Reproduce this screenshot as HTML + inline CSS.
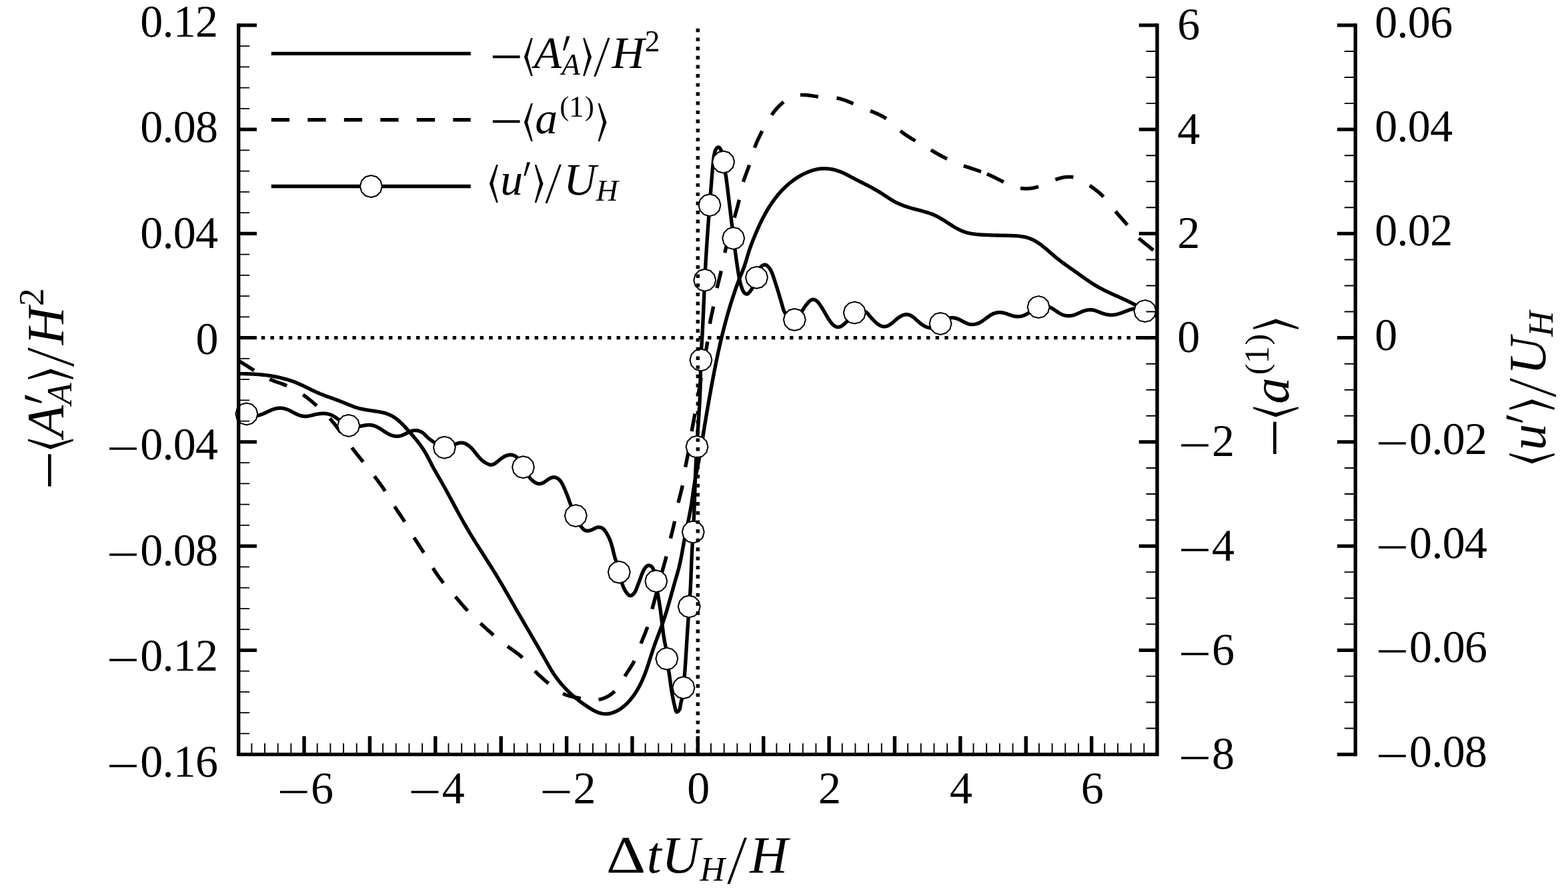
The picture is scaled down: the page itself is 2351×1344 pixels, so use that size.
<!DOCTYPE html>
<html lang="en">
<head>
<meta charset="utf-8">
<title>Figure</title>
<style>
html,body{margin:0;padding:0;background:#fff;}
body{width:2351px;height:1344px;overflow:hidden;}
svg{display:block;}
text{font-family:"Liberation Serif","DejaVu Serif",serif;fill:#000;}
.i{font-style:italic;}
.m{font-family:"DejaVu Math TeX Gyre","DejaVu Serif",serif;}
.s{font-family:"DejaVu Sans",sans-serif;}
.sl{font-family:"DejaVu Sans",sans-serif;font-weight:200;}
</style>
</head>
<body>
<svg width="2351" height="1344" viewBox="0 0 2351 1344" text-rendering="geometricPrecision">
<g fill="none" stroke="#000" stroke-width="5.4" stroke-linejoin="round">
<path d="M357.67 560.59 L359.65 560.59 L361.63 560.6 L363.62 560.62 L365.61 560.65 L367.6 560.69 L369.59 560.74 L371.59 560.79 L373.59 560.86 L375.59 560.94 L377.59 561.03 L379.6 561.14 L381.6 561.25 L383.6 561.38 L385.61 561.52 L387.61 561.68 L389.61 561.84 L391.61 562.03 L393.61 562.23 L395.61 562.44 L397.61 562.67 L399.6 562.91 L401.59 563.18 L403.58 563.45 L405.57 563.75 L407.55 564.07 L409.53 564.4 L411.5 564.75 L413.47 565.12 L415.43 565.51 L417.39 565.92 L419.35 566.36 L421.29 566.81 L423.24 567.28 L425.17 567.78 L427.1 568.3 L429.02 568.84 L430.94 569.4 L432.84 569.99 L434.74 570.6 L436.63 571.24 L438.52 571.9 L440.39 572.59 L442.25 573.3 L444.11 574.04 L445.95 574.8 L447.79 575.59 L449.62 576.4 L451.44 577.23 L453.26 578.07 L455.07 578.93 L456.88 579.8 L458.68 580.67 L460.48 581.55 L462.28 582.43 L464.09 583.32 L465.89 584.2 L467.69 585.08 L469.5 585.95 L471.31 586.81 L473.12 587.65 L474.94 588.49 L476.77 589.3 L478.61 590.1 L480.45 590.87 L482.3 591.62 L484.16 592.34 L486.03 593.05 L487.9 593.74 L489.78 594.43 L491.65 595.1 L493.54 595.77 L495.42 596.44 L497.3 597.11 L499.18 597.79 L501.06 598.47 L502.94 599.16 L504.82 599.85 L506.69 600.56 L508.57 601.27 L510.44 601.99 L512.3 602.72 L514.17 603.47 L516.03 604.23 L517.88 605 L519.74 605.78 L521.59 606.56 L523.45 607.33 L525.3 608.1 L527.17 608.84 L529.04 609.56 L530.91 610.24 L532.8 610.88 L534.7 611.47 L536.61 612.02 L538.53 612.53 L540.46 613.01 L542.4 613.45 L544.35 613.86 L546.31 614.24 L548.27 614.61 L550.24 614.95 L552.22 615.27 L554.2 615.58 L556.18 615.89 L558.17 616.18 L560.16 616.48 L562.15 616.77 L564.15 617.07 L566.14 617.38 L568.13 617.7 L570.12 618.05 L572.09 618.44 L574.05 618.87 L575.99 619.34 L577.91 619.88 L579.81 620.49 L581.67 621.17 L583.51 621.92 L585.32 622.74 L587.09 623.63 L588.82 624.59 L590.52 625.62 L592.18 626.71 L593.8 627.86 L595.38 629.06 L596.92 630.32 L598.43 631.63 L599.92 632.98 L601.38 634.36 L602.81 635.78 L604.22 637.22 L605.62 638.69 L607 640.17 L608.37 641.66 L609.74 643.16 L611.1 644.67 L612.45 646.17 L613.8 647.67 L615.14 649.18 L616.47 650.69 L617.8 652.2 L619.12 653.72 L620.42 655.25 L621.71 656.78 L622.99 658.32 L624.26 659.86 L625.51 661.42 L626.74 662.99 L627.96 664.56 L629.16 666.15 L630.34 667.75 L631.5 669.37 L632.64 671 L633.75 672.65 L634.85 674.31 L635.91 675.99 L636.95 677.69 L637.97 679.41 L638.96 681.14 L639.93 682.89 L640.89 684.65 L641.83 686.42 L642.76 688.2 L643.68 689.99 L644.6 691.78 L645.52 693.57 L646.43 695.35 L647.36 697.14 L648.29 698.92 L649.24 700.69 L650.19 702.45 L651.16 704.2 L652.14 705.95 L653.13 707.69 L654.12 709.42 L655.12 711.16 L656.12 712.88 L657.12 714.61 L658.13 716.34 L659.13 718.07 L660.13 719.8 L661.13 721.53 L662.12 723.27 L663.1 725.01 L664.08 726.75 L665.06 728.49 L666.04 730.24 L667.01 731.99 L667.98 733.74 L668.95 735.49 L669.91 737.24 L670.87 739 L671.83 740.76 L672.78 742.51 L673.74 744.27 L674.69 746.03 L675.65 747.79 L676.6 749.55 L677.55 751.32 L678.5 753.08 L679.45 754.84 L680.4 756.6 L681.35 758.37 L682.3 760.13 L683.25 761.89 L684.21 763.65 L685.16 765.41 L686.11 767.17 L687.07 768.93 L688.03 770.69 L688.99 772.45 L689.95 774.2 L690.92 775.96 L691.89 777.71 L692.86 779.46 L693.83 781.21 L694.81 782.95 L695.79 784.7 L696.78 786.44 L697.77 788.17 L698.77 789.91 L699.77 791.64 L700.77 793.37 L701.78 795.1 L702.8 796.82 L703.82 798.54 L704.84 800.26 L705.88 801.97 L706.91 803.68 L707.96 805.39 L709.01 807.09 L710.06 808.79 L711.12 810.49 L712.18 812.18 L713.24 813.88 L714.31 815.57 L715.38 817.26 L716.45 818.95 L717.52 820.64 L718.6 822.32 L719.67 824.01 L720.75 825.7 L721.83 827.38 L722.91 829.07 L723.98 830.75 L725.06 832.44 L726.14 834.12 L727.22 835.81 L728.3 837.49 L729.38 839.18 L730.45 840.87 L731.53 842.55 L732.6 844.24 L733.67 845.93 L734.74 847.63 L735.81 849.32 L736.87 851.01 L737.93 852.71 L738.99 854.41 L740.05 856.11 L741.1 857.81 L742.15 859.51 L743.19 861.22 L744.23 862.93 L745.27 864.64 L746.3 866.35 L747.33 868.07 L748.36 869.78 L749.38 871.5 L750.4 873.23 L751.42 874.95 L752.43 876.67 L753.45 878.4 L754.46 880.13 L755.46 881.85 L756.47 883.58 L757.47 885.31 L758.48 887.05 L759.48 888.78 L760.48 890.51 L761.47 892.25 L762.47 893.98 L763.47 895.72 L764.46 897.46 L765.46 899.19 L766.45 900.93 L767.45 902.67 L768.44 904.4 L769.43 906.14 L770.43 907.88 L771.42 909.61 L772.42 911.35 L773.41 913.09 L774.41 914.82 L775.4 916.56 L776.4 918.29 L777.4 920.03 L778.4 921.76 L779.41 923.49 L780.41 925.22 L781.41 926.95 L782.42 928.69 L783.42 930.41 L784.43 932.14 L785.44 933.87 L786.45 935.6 L787.46 937.33 L788.47 939.06 L789.48 940.78 L790.49 942.51 L791.5 944.24 L792.51 945.97 L793.52 947.69 L794.53 949.42 L795.54 951.15 L796.55 952.88 L797.55 954.6 L798.56 956.33 L799.57 958.06 L800.58 959.79 L801.59 961.52 L802.59 963.24 L803.6 964.97 L804.6 966.7 L805.6 968.44 L806.61 970.17 L807.61 971.9 L808.61 973.63 L809.6 975.37 L810.6 977.1 L811.59 978.84 L812.59 980.57 L813.58 982.31 L814.57 984.05 L815.55 985.79 L816.54 987.53 L817.52 989.27 L818.5 991.02 L819.48 992.76 L820.46 994.51 L821.44 996.25 L822.43 997.99 L823.43 999.72 L824.43 1001.45 L825.45 1003.17 L826.48 1004.89 L827.53 1006.59 L828.59 1008.29 L829.68 1009.97 L830.79 1011.64 L831.93 1013.29 L833.08 1014.94 L834.25 1016.56 L835.45 1018.18 L836.67 1019.78 L837.9 1021.36 L839.16 1022.93 L840.43 1024.48 L841.72 1026.01 L843.04 1027.53 L844.36 1029.03 L845.71 1030.52 L847.07 1031.99 L848.45 1033.43 L849.84 1034.87 L851.25 1036.28 L852.68 1037.67 L854.12 1039.04 L855.57 1040.39 L857.04 1041.73 L858.52 1043.04 L860.02 1044.34 L861.53 1045.63 L863.06 1046.89 L864.6 1048.14 L866.15 1049.38 L867.73 1050.6 L869.31 1051.82 L870.91 1053.01 L872.53 1054.2 L874.16 1055.38 L875.81 1056.55 L877.48 1057.7 L879.16 1058.85 L880.85 1060 L882.57 1061.13 L884.29 1062.24 L886.04 1063.33 L887.8 1064.38 L889.58 1065.39 L891.37 1066.34 L893.18 1067.22 L895.01 1068.03 L896.86 1068.76 L898.72 1069.4 L900.59 1069.94 L902.49 1070.37 L904.4 1070.68 L906.33 1070.86 L908.28 1070.91 L910.24 1070.82 L912.21 1070.6 L914.17 1070.26 L916.12 1069.81 L918.05 1069.26 L919.95 1068.61 L921.82 1067.87 L923.65 1067.06 L925.45 1066.16 L927.2 1065.19 L928.92 1064.15 L930.61 1063.04 L932.25 1061.87 L933.86 1060.64 L935.43 1059.36 L936.97 1058.03 L938.47 1056.65 L939.93 1055.23 L941.36 1053.77 L942.75 1052.28 L944.11 1050.75 L945.43 1049.21 L946.72 1047.63 L947.96 1046.04 L949.18 1044.44 L950.36 1042.81 L951.51 1041.17 L952.62 1039.51 L953.71 1037.83 L954.76 1036.14 L955.79 1034.44 L956.79 1032.72 L957.76 1030.99 L958.7 1029.24 L959.62 1027.48 L960.51 1025.71 L961.38 1023.92 L962.22 1022.12 L963.04 1020.32 L963.84 1018.5 L964.62 1016.67 L965.38 1014.83 L966.12 1012.98 L966.85 1011.12 L967.55 1009.25 L968.25 1007.38 L968.92 1005.5 L969.59 1003.61 L970.24 1001.72 L970.88 999.82 L971.52 997.92 L972.14 996.01 L972.76 994.1 L973.38 992.18 L973.99 990.27 L974.59 988.35 L975.2 986.44 L975.81 984.52 L976.42 982.6 L977.03 980.69 L977.64 978.77 L978.26 976.86 L978.89 974.95 L979.53 973.05 L980.17 971.15 L980.82 969.25 L981.49 967.36 L982.17 965.48 L982.85 963.6 L983.54 961.72 L984.24 959.85 L984.94 957.97 L985.64 956.1 L986.35 954.24 L987.06 952.37 L987.77 950.5 L988.48 948.64 L989.19 946.77 L989.89 944.9 L990.59 943.03 L991.28 941.16 L991.96 939.28 L992.64 937.41 L993.31 935.53 L993.96 933.64 L994.61 931.75 L995.25 929.86 L995.88 927.96 L996.5 926.06 L997.11 924.16 L997.71 922.25 L998.31 920.34 L998.9 918.43 L999.48 916.52 L1000.06 914.6 L1000.63 912.68 L1001.19 910.76 L1001.76 908.84 L1002.31 906.92 L1002.87 904.99 L1003.42 903.06 L1003.96 901.14 L1004.51 899.21 L1005.05 897.28 L1005.59 895.35 L1006.13 893.42 L1006.67 891.49 L1007.21 889.55 L1007.74 887.62 L1008.28 885.69 L1008.82 883.76 L1009.36 881.83 L1009.91 879.91 L1010.45 877.98 L1011 876.05 L1011.55 874.13 L1012.1 872.2 L1012.66 870.28 L1013.22 868.36 L1013.78 866.44 L1014.34 864.52 L1014.89 862.6 L1015.44 860.68 L1015.98 858.76 L1016.52 856.83 L1017.04 854.9 L1017.55 852.97 L1018.04 851.04 L1018.52 849.1 L1018.98 847.15 L1019.42 845.2 L1019.85 843.25 L1020.26 841.3 L1020.67 839.34 L1021.06 837.38 L1021.44 835.41 L1021.81 833.45 L1022.18 831.48 L1022.54 829.51 L1022.9 827.54 L1023.25 825.57 L1023.6 823.6 L1023.95 821.63 L1024.31 819.65 L1024.66 817.68 L1025.01 815.71 L1025.37 813.74 L1025.74 811.77 L1026.11 809.8 L1026.49 807.84 L1026.87 805.87 L1027.27 803.91 L1027.66 801.95 L1028.06 799.99 L1028.47 798.03 L1028.88 796.07 L1029.29 794.11 L1029.7 792.15 L1030.11 790.19 L1030.53 788.24 L1030.94 786.28 L1031.35 784.32 L1031.76 782.37 L1032.17 780.41 L1032.57 778.45 L1032.97 776.49 L1033.37 774.53 L1033.76 772.57 L1034.14 770.61 L1034.52 768.64 L1034.89 766.68 L1035.25 764.71 L1035.6 762.74 L1035.94 760.77 L1036.27 758.8 L1036.59 756.82 L1036.9 754.85 L1037.2 752.87 L1037.49 750.89 L1037.78 748.9 L1038.06 746.92 L1038.33 744.93 L1038.61 742.95 L1038.88 740.96 L1039.16 738.98 L1039.44 737 L1039.72 735.01 L1040.01 733.03 L1040.31 731.05 L1040.62 729.07 L1040.94 727.1 L1041.27 725.13 L1041.61 723.15 L1041.96 721.18 L1042.31 719.22 L1042.67 717.25 L1043.03 715.28 L1043.4 713.32 L1043.77 711.35 L1044.15 709.39 L1044.53 707.43 L1044.91 705.46 L1045.29 703.5 L1045.68 701.54 L1046.06 699.57 L1046.44 697.61 L1046.82 695.65 L1047.2 693.69 L1047.58 691.72 L1047.95 689.76 L1048.32 687.79 L1048.69 685.82 L1049.04 683.85 L1049.4 681.88 L1049.74 679.91 L1050.08 677.94 L1050.42 675.97 L1050.75 673.99 L1051.08 672.02 L1051.41 670.04 L1051.73 668.07 L1052.05 666.09 L1052.37 664.11 L1052.68 662.13 L1053 660.16 L1053.31 658.18 L1053.63 656.2 L1053.95 654.23 L1054.27 652.25 L1054.59 650.28 L1054.9 648.3 L1055.23 646.33 L1055.55 644.35 L1055.87 642.38 L1056.19 640.4 L1056.52 638.43 L1056.84 636.46 L1057.17 634.48 L1057.49 632.51 L1057.82 630.54 L1058.15 628.57 L1058.48 626.59 L1058.81 624.62 L1059.14 622.65 L1059.48 620.68 L1059.81 618.71 L1060.15 616.74 L1060.48 614.77 L1060.82 612.8 L1061.16 610.83 L1061.5 608.86 L1061.84 606.89 L1062.19 604.92 L1062.53 602.95 L1062.87 600.98 L1063.22 599.01 L1063.57 597.04 L1063.92 595.07 L1064.27 593.1 L1064.62 591.13 L1064.98 589.16 L1065.33 587.2 L1065.69 585.23 L1066.05 583.26 L1066.4 581.29 L1066.77 579.32 L1067.13 577.35 L1067.49 575.39 L1067.86 573.42 L1068.23 571.45 L1068.6 569.48 L1068.97 567.52 L1069.34 565.55 L1069.72 563.58 L1070.1 561.62 L1070.48 559.65 L1070.86 557.69 L1071.24 555.72 L1071.63 553.76 L1072.02 551.79 L1072.41 549.83 L1072.81 547.87 L1073.2 545.9 L1073.6 543.94 L1074 541.98 L1074.41 540.02 L1074.82 538.06 L1075.23 536.1 L1075.64 534.14 L1076.06 532.18 L1076.48 530.22 L1076.9 528.27 L1077.33 526.31 L1077.76 524.36 L1078.19 522.4 L1078.63 520.45 L1079.07 518.49 L1079.51 516.54 L1079.96 514.59 L1080.41 512.64 L1080.87 510.69 L1081.33 508.74 L1081.79 506.8 L1082.26 504.85 L1082.73 502.91 L1083.2 500.96 L1083.68 499.02 L1084.16 497.08 L1084.65 495.14 L1085.14 493.2 L1085.64 491.26 L1086.14 489.32 L1086.64 487.39 L1087.15 485.45 L1087.67 483.52 L1088.18 481.59 L1088.71 479.66 L1089.24 477.73 L1089.77 475.8 L1090.31 473.87 L1090.85 471.95 L1091.4 470.03 L1091.95 468.1 L1092.51 466.18 L1093.07 464.26 L1093.64 462.35 L1094.22 460.43 L1094.8 458.52 L1095.38 456.61 L1095.97 454.7 L1096.57 452.79 L1097.17 450.88 L1097.78 448.97 L1098.39 447.07 L1099.01 445.17 L1099.64 443.27 L1100.27 441.37 L1100.91 439.47 L1101.55 437.58 L1102.2 435.69 L1102.86 433.8 L1103.52 431.91 L1104.19 430.02 L1104.86 428.14 L1105.55 426.26 L1106.24 424.38 L1106.94 422.5 L1107.65 420.63 L1108.37 418.76 L1109.1 416.9 L1109.84 415.04 L1110.59 413.19 L1111.35 411.35 L1112.12 409.5 L1112.88 407.65 L1113.63 405.8 L1114.36 403.94 L1115.06 402.08 L1115.74 400.2 L1116.4 398.31 L1117.02 396.41 L1117.63 394.51 L1118.22 392.6 L1118.81 390.68 L1119.38 388.76 L1119.95 386.84 L1120.52 384.92 L1121.09 383 L1121.67 381.09 L1122.26 379.18 L1122.86 377.27 L1123.48 375.38 L1124.12 373.49 L1124.77 371.61 L1125.44 369.73 L1126.12 367.85 L1126.81 365.99 L1127.52 364.12 L1128.24 362.26 L1128.97 360.41 L1129.7 358.55 L1130.45 356.7 L1131.21 354.85 L1131.97 353 L1132.75 351.16 L1133.53 349.31 L1134.32 347.47 L1135.12 345.63 L1135.93 343.79 L1136.74 341.96 L1137.57 340.13 L1138.41 338.3 L1139.26 336.48 L1140.12 334.67 L1140.99 332.86 L1141.88 331.05 L1142.78 329.26 L1143.69 327.47 L1144.61 325.68 L1145.55 323.91 L1146.5 322.14 L1147.46 320.38 L1148.44 318.63 L1149.44 316.89 L1150.45 315.16 L1151.48 313.44 L1152.52 311.73 L1153.59 310.04 L1154.66 308.35 L1155.76 306.67 L1156.87 305.01 L1158.01 303.36 L1159.16 301.73 L1160.33 300.11 L1161.52 298.5 L1162.72 296.91 L1163.95 295.34 L1165.2 293.78 L1166.46 292.24 L1167.75 290.71 L1169.05 289.21 L1170.38 287.72 L1171.73 286.25 L1173.09 284.81 L1174.48 283.38 L1175.89 281.97 L1177.32 280.59 L1178.77 279.23 L1180.24 277.89 L1181.73 276.57 L1183.25 275.28 L1184.79 274.01 L1186.34 272.77 L1187.93 271.56 L1189.53 270.37 L1191.16 269.2 L1192.8 268.07 L1194.48 266.96 L1196.17 265.88 L1197.89 264.83 L1199.63 263.81 L1201.4 262.82 L1203.19 261.87 L1205 260.94 L1206.83 260.06 L1208.67 259.21 L1210.54 258.41 L1212.42 257.65 L1214.32 256.94 L1216.23 256.27 L1218.15 255.66 L1220.09 255.1 L1222.03 254.59 L1223.98 254.15 L1225.94 253.76 L1227.9 253.44 L1229.87 253.18 L1231.84 252.99 L1233.82 252.87 L1235.79 252.83 L1237.76 252.85 L1239.73 252.95 L1241.7 253.12 L1243.67 253.35 L1245.63 253.65 L1247.58 254.01 L1249.52 254.43 L1251.46 254.9 L1253.38 255.43 L1255.3 256.02 L1257.2 256.65 L1259.09 257.33 L1260.97 258.05 L1262.83 258.82 L1264.68 259.63 L1266.5 260.47 L1268.31 261.35 L1270.11 262.25 L1271.9 263.18 L1273.68 264.12 L1275.45 265.07 L1277.23 266.02 L1279 266.97 L1280.77 267.91 L1282.54 268.84 L1284.32 269.76 L1286.1 270.67 L1287.88 271.58 L1289.67 272.48 L1291.45 273.38 L1293.23 274.28 L1295.01 275.19 L1296.79 276.09 L1298.57 277 L1300.34 277.92 L1302.11 278.84 L1303.88 279.77 L1305.64 280.71 L1307.4 281.66 L1309.15 282.62 L1310.89 283.59 L1312.63 284.57 L1314.36 285.57 L1316.09 286.58 L1317.81 287.61 L1319.52 288.65 L1321.22 289.71 L1322.91 290.79 L1324.59 291.89 L1326.26 293.01 L1327.93 294.13 L1329.6 295.26 L1331.27 296.38 L1332.95 297.49 L1334.63 298.58 L1336.33 299.65 L1338.04 300.68 L1339.78 301.67 L1341.53 302.62 L1343.3 303.54 L1345.09 304.41 L1346.9 305.25 L1348.72 306.06 L1350.56 306.83 L1352.41 307.57 L1354.27 308.29 L1356.15 308.97 L1358.04 309.63 L1359.93 310.26 L1361.84 310.88 L1363.75 311.46 L1365.68 312.03 L1367.61 312.59 L1369.54 313.12 L1371.48 313.64 L1373.42 314.16 L1375.36 314.66 L1377.3 315.17 L1379.24 315.67 L1381.18 316.18 L1383.11 316.7 L1385.04 317.23 L1386.96 317.78 L1388.87 318.34 L1390.77 318.93 L1392.67 319.55 L1394.55 320.2 L1396.41 320.88 L1398.26 321.6 L1400.1 322.36 L1401.92 323.16 L1403.71 324.02 L1405.5 324.92 L1407.26 325.86 L1409.01 326.83 L1410.75 327.84 L1412.48 328.87 L1414.2 329.92 L1415.91 331 L1417.62 332.08 L1419.32 333.18 L1421.02 334.28 L1422.72 335.38 L1424.42 336.47 L1426.13 337.56 L1427.84 338.63 L1429.55 339.69 L1431.28 340.72 L1433.01 341.72 L1434.76 342.7 L1436.52 343.64 L1438.29 344.53 L1440.08 345.39 L1441.89 346.19 L1443.72 346.94 L1445.57 347.63 L1447.44 348.26 L1449.34 348.83 L1451.26 349.34 L1453.19 349.79 L1455.14 350.2 L1457.11 350.56 L1459.09 350.88 L1461.08 351.16 L1463.09 351.4 L1465.09 351.61 L1467.11 351.79 L1469.13 351.95 L1471.15 352.08 L1473.17 352.2 L1475.19 352.3 L1477.21 352.39 L1479.22 352.48 L1481.23 352.56 L1483.23 352.63 L1485.23 352.7 L1487.22 352.77 L1489.21 352.83 L1491.2 352.89 L1493.19 352.94 L1495.17 353 L1497.16 353.05 L1499.14 353.1 L1501.13 353.14 L1503.12 353.19 L1505.11 353.23 L1507.11 353.28 L1509.11 353.32 L1511.11 353.37 L1513.12 353.41 L1515.14 353.46 L1517.15 353.52 L1519.17 353.59 L1521.19 353.68 L1523.2 353.79 L1525.21 353.93 L1527.21 354.1 L1529.2 354.31 L1531.19 354.57 L1533.16 354.87 L1535.12 355.22 L1537.06 355.63 L1538.99 356.11 L1540.89 356.65 L1542.78 357.26 L1544.64 357.96 L1546.48 358.72 L1548.3 359.56 L1550.09 360.45 L1551.85 361.41 L1553.59 362.42 L1555.3 363.48 L1556.99 364.58 L1558.65 365.71 L1560.28 366.88 L1561.89 368.08 L1563.47 369.31 L1565.04 370.56 L1566.6 371.83 L1568.14 373.11 L1569.67 374.41 L1571.19 375.72 L1572.71 377.04 L1574.22 378.37 L1575.73 379.69 L1577.24 381.01 L1578.75 382.33 L1580.27 383.64 L1581.8 384.93 L1583.33 386.21 L1584.88 387.48 L1586.45 388.72 L1588.02 389.95 L1589.61 391.17 L1591.2 392.37 L1592.8 393.56 L1594.41 394.74 L1596.03 395.91 L1597.65 397.08 L1599.28 398.24 L1600.91 399.39 L1602.54 400.54 L1604.18 401.69 L1605.81 402.84 L1607.45 403.99 L1609.08 405.14 L1610.72 406.3 L1612.35 407.46 L1613.97 408.63 L1615.6 409.8 L1617.23 410.97 L1618.85 412.14 L1620.48 413.31 L1622.11 414.48 L1623.74 415.64 L1625.37 416.8 L1627.01 417.96 L1628.66 419.1 L1630.3 420.24 L1631.96 421.36 L1633.62 422.48 L1635.29 423.58 L1636.97 424.67 L1638.65 425.75 L1640.35 426.8 L1642.06 427.85 L1643.77 428.87 L1645.5 429.88 L1647.23 430.87 L1648.98 431.84 L1650.73 432.8 L1652.5 433.73 L1654.27 434.65 L1656.05 435.55 L1657.85 436.44 L1659.64 437.31 L1661.45 438.18 L1663.26 439.03 L1665.07 439.87 L1666.89 440.7 L1668.72 441.53 L1670.54 442.36 L1672.37 443.18 L1674.2 444 L1676.03 444.81 L1677.85 445.63 L1679.68 446.45 L1681.51 447.28 L1683.33 448.11 L1685.15 448.95 L1686.96 449.79 L1688.77 450.65 L1690.58 451.51 L1692.38 452.39 L1694.17 453.28 L1695.96 454.18 L1697.74 455.09 L1699.51 456 L1701.29 456.93 L1703.06 457.86 L1704.83 458.8 L1706.59 459.74 L1708.36 460.68 L1710.12 461.63 L1711.88 462.57 L1713.64 463.52 L1715.41 464.47 L1717.17 465.41 L1718.94 466.35 L1720.7 467.29 L1722.48 468.22 L1724.25 469.14 L1726.03 470.06 L1727.81 470.97 L1729.6 471.87 L1731.39 472.76 L1733.19 473.63 L1735 474.5"/>
<path d="M357.65 541 L358.95 541.82 L360.25 542.63 L361.55 543.45 L362.86 544.26 L364.16 545.08 L365.46 545.89 L366.76 546.71 L368.06 547.52 L369.36 548.34 L370.67 549.16 L371.97 549.97 L373.27 550.79 L374.58 551.61 L375.88 552.42 L377.18 553.24 L378.49 554.06 L379.79 554.88 L381.1 555.7"/>
<path d="M404.3 568.8 L405.71 569.41 L407.12 570.01 L408.54 570.58 L409.98 571.14 L411.41 571.68 L412.85 572.22 L414.3 572.74 L415.75 573.26 L417.2 573.77 L418.66 574.28 L420.11 574.8 L421.56 575.31 L423.01 575.83 L424.46 576.36 L425.9 576.9 L427.34 577.45 L428.77 578.02 L430.2 578.6"/>
<path d="M454.3 592 L455.57 592.9 L456.83 593.81 L458.09 594.73 L459.33 595.67 L460.57 596.61 L461.8 597.57 L463.02 598.53 L464.23 599.51 L465.44 600.49 L466.64 601.48 L467.83 602.48 L469.02 603.49 L470.21 604.5 L471.39 605.52 L472.56 606.54 L473.73 607.57 L474.9 608.6"/>
<path d="M494.5 627.7 L495.5 628.83 L496.49 629.96 L497.47 631.1 L498.44 632.25 L499.4 633.41 L500.36 634.58 L501.3 635.76 L502.24 636.94 L503.17 638.12 L504.1 639.31 L505.01 640.51 L505.93 641.71 L506.83 642.92 L507.73 644.13 L508.63 645.34 L509.52 646.56 L510.41 647.78 L511.3 649"/>
<path d="M527.6 671.5 L528.51 672.71 L529.43 673.91 L530.36 675.11 L531.28 676.31 L532.22 677.5 L533.15 678.69 L534.09 679.88 L535.03 681.07 L535.97 682.26 L536.92 683.44 L537.86 684.63 L538.81 685.81 L539.76 686.99 L540.71 688.17 L541.66 689.35 L542.6 690.54 L543.55 691.72 L544.5 692.9"/>
<path d="M561.3 714.3 L562.23 715.51 L563.16 716.73 L564.09 717.94 L565.01 719.16 L565.94 720.38 L566.85 721.6 L567.77 722.83 L568.68 724.06 L569.58 725.29 L570.48 726.53 L571.37 727.77 L572.26 729.01 L573.14 730.26 L574.01 731.52 L574.87 732.78 L575.72 734.05 L576.57 735.32 L577.4 736.6"/>
<path d="M591.6 759.8 L592.42 761.07 L593.26 762.34 L594.1 763.61 L594.94 764.87 L595.79 766.13 L596.65 767.38 L597.51 768.63 L598.37 769.88 L599.23 771.14 L600.09 772.39 L600.94 773.64 L601.8 774.89 L602.65 776.15 L603.49 777.41 L604.33 778.68 L605.16 779.95 L605.99 781.22 L606.8 782.5"/>
<path d="M620.8 806.3 L621.63 807.65 L622.47 809 L623.32 810.34 L624.18 811.68 L625.04 813.01 L625.9 814.34 L626.77 815.67 L627.64 817 L628.52 818.33 L629.39 819.65 L630.26 820.98 L631.13 822.31 L631.99 823.64 L632.85 824.98 L633.71 826.31 L634.56 827.65 L635.4 829"/>
<path d="M649.2 852.2 L650 853.49 L650.81 854.77 L651.63 856.05 L652.45 857.32 L653.29 858.59 L654.13 859.85 L654.98 861.1 L655.84 862.35 L656.7 863.6 L657.58 864.84 L658.46 866.07 L659.36 867.29 L660.26 868.51 L661.17 869.72 L662.09 870.93 L663.02 872.13 L663.95 873.32 L664.9 874.5"/>
<path d="M682.8 895.1 L683.82 896.27 L684.84 897.45 L685.85 898.63 L686.86 899.82 L687.87 901 L688.88 902.18 L689.89 903.37 L690.9 904.55 L691.92 905.73 L692.93 906.91 L693.95 908.09 L694.97 909.26 L695.99 910.43 L697.02 911.6 L698.05 912.76 L699.1 913.91 L700.14 915.06 L701.2 916.2"/>
<path d="M720.3 934.9 L721.45 935.96 L722.59 937.03 L723.74 938.09 L724.89 939.15 L726.04 940.21 L727.19 941.26 L728.34 942.32 L729.49 943.37 L730.65 944.42 L731.81 945.46 L732.97 946.51 L734.14 947.55 L735.3 948.59 L736.47 949.62 L737.64 950.65 L738.82 951.68 L740 952.7"/>
<path d="M761 969.5 L762.27 970.42 L763.54 971.33 L764.82 972.24 L766.1 973.15 L767.38 974.05 L768.66 974.96 L769.93 975.87 L771.21 976.78 L772.47 977.7 L773.73 978.63 L774.99 979.56 L776.23 980.51 L777.46 981.47 L778.68 982.44 L779.88 983.43 L781.07 984.43 L782.25 985.46 L783.4 986.5"/>
<path d="M802 1006.5 L803.07 1007.61 L804.15 1008.7 L805.23 1009.79 L806.33 1010.86 L807.44 1011.93 L808.56 1012.98 L809.69 1014.03 L810.82 1015.07 L811.96 1016.1 L813.11 1017.12 L814.27 1018.14 L815.43 1019.16 L816.6 1020.17 L817.77 1021.18 L818.95 1022.19 L820.13 1023.19 L821.31 1024.2 L822.5 1025.2"/>
<path d="M844 1040.4 L845.38 1041.03 L846.79 1041.62 L848.2 1042.18 L849.64 1042.69 L851.09 1043.18 L852.55 1043.64 L854.03 1044.06 L855.51 1044.47 L857.01 1044.84 L858.52 1045.2 L860.04 1045.54 L861.56 1045.86 L863.09 1046.17 L864.63 1046.47 L866.17 1046.76 L867.71 1047.04 L869.25 1047.32 L870.8 1047.6"/>
<path d="M897.5 1049.4 L898.99 1049.13 L900.48 1048.8 L901.96 1048.41 L903.43 1047.97 L904.89 1047.47 L906.33 1046.92 L907.76 1046.33 L909.17 1045.68 L910.55 1044.98 L911.92 1044.24 L913.25 1043.45 L914.56 1042.62 L915.84 1041.75 L917.09 1040.84 L918.3 1039.88 L919.47 1038.89 L920.61 1037.86 L921.7 1036.8"/>
<path d="M936.8 1014.5 L937.6 1013.2 L938.42 1011.91 L939.24 1010.63 L940.07 1009.35 L940.9 1008.08 L941.74 1006.81 L942.58 1005.54 L943.41 1004.27 L944.24 1003 L945.06 1001.73 L945.87 1000.45 L946.67 999.17 L947.46 997.88 L948.23 996.58 L948.98 995.28 L949.71 993.97 L950.42 992.64 L951.1 991.3"/>
<path d="M961 965.4 L961.56 963.92 L962.14 962.44 L962.72 960.97 L963.31 959.5 L963.91 958.03 L964.51 956.57 L965.11 955.11 L965.71 953.65 L966.31 952.19 L966.91 950.72 L967.5 949.26 L968.08 947.79 L968.65 946.32 L969.21 944.85 L969.76 943.37 L970.29 941.89 L970.8 940.4"/>
<path d="M977.9 913.6 L978.27 912.11 L978.65 910.63 L979.03 909.15 L979.42 907.67 L979.81 906.19 L980.2 904.71 L980.59 903.23 L980.99 901.75 L981.39 900.28 L981.79 898.8 L982.2 897.33 L982.6 895.85 L983 894.38 L983.4 892.9 L983.81 891.43 L984.21 889.95 L984.6 888.48 L985 887"/>
<path d="M992 860.4 L992.42 858.88 L992.84 857.35 L993.26 855.83 L993.69 854.31 L994.11 852.79 L994.54 851.27 L994.97 849.75 L995.4 848.22 L995.82 846.7 L996.24 845.18 L996.66 843.66 L997.08 842.13 L997.5 840.61 L997.91 839.08 L998.31 837.56 L998.71 836.03 L999.1 834.5"/>
<path d="M1005.4 807.7 L1005.77 806.18 L1006.14 804.65 L1006.51 803.13 L1006.89 801.61 L1007.27 800.09 L1007.65 798.57 L1008.03 797.05 L1008.4 795.53 L1008.78 794.01 L1009.15 792.49 L1009.52 790.96 L1009.88 789.44 L1010.24 787.92 L1010.59 786.39 L1010.94 784.86 L1011.27 783.33 L1011.6 781.8"/>
<path d="M1017 754.2 L1017.35 752.67 L1017.72 751.13 L1018.09 749.61 L1018.47 748.08 L1018.86 746.55 L1019.25 745.03 L1019.64 743.5 L1020.03 741.97 L1020.42 740.45 L1020.81 738.92 L1021.19 737.4 L1021.57 735.87 L1021.94 734.34 L1022.3 732.81 L1022.65 731.28 L1022.98 729.74 L1023.3 728.2"/>
<path d="M1027.7 700.6 L1027.96 699.12 L1028.24 697.63 L1028.52 696.15 L1028.81 694.67 L1029.1 693.2 L1029.4 691.72 L1029.71 690.24 L1030.01 688.77 L1030.32 687.29 L1030.63 685.82 L1030.94 684.34 L1031.25 682.87 L1031.55 681.39 L1031.86 679.92 L1032.15 678.44 L1032.44 676.96 L1032.73 675.48 L1033 674"/>
<path d="M1037.2 647 L1037.46 645.44 L1037.72 643.89 L1037.99 642.33 L1038.26 640.78 L1038.54 639.22 L1038.82 637.67 L1039.1 636.12 L1039.39 634.56 L1039.68 633.01 L1039.97 631.46 L1040.26 629.91 L1040.56 628.36 L1040.85 626.81 L1041.14 625.26 L1041.43 623.7 L1041.72 622.15 L1042 620.6"/>
<path d="M1046.6 593.7 L1046.85 592.21 L1047.11 590.71 L1047.36 589.22 L1047.62 587.72 L1047.87 586.23 L1048.13 584.73 L1048.39 583.24 L1048.65 581.74 L1048.9 580.25 L1049.16 578.76 L1049.42 577.26 L1049.67 575.77 L1049.93 574.27 L1050.19 572.78 L1050.44 571.28 L1050.7 569.79 L1050.95 568.3 L1051.2 566.8"/>
<path d="M1055.8 540 L1056.09 538.47 L1056.38 536.95 L1056.67 535.42 L1056.97 533.9 L1057.26 532.37 L1057.56 530.85 L1057.85 529.32 L1058.15 527.8 L1058.44 526.27 L1058.73 524.75 L1059.01 523.22 L1059.29 521.69 L1059.56 520.16 L1059.83 518.63 L1060.08 517.1 L1060.33 515.57 L1060.57 514.04 L1060.8 512.5"/>
<path d="M1064.3 485.7 L1064.56 484.17 L1064.84 482.64 L1065.13 481.11 L1065.42 479.58 L1065.73 478.06 L1066.05 476.53 L1066.37 475.01 L1066.7 473.49 L1067.04 471.97 L1067.37 470.45 L1067.71 468.93 L1068.05 467.41 L1068.39 465.89 L1068.72 464.37 L1069.05 462.85 L1069.38 461.32 L1069.7 459.8"/>
<path d="M1075.1 432.2 L1075.44 430.67 L1075.79 429.14 L1076.14 427.62 L1076.51 426.1 L1076.87 424.57 L1077.25 423.05 L1077.62 421.53 L1078 420.01 L1078.38 418.49 L1078.75 416.97 L1079.13 415.45 L1079.5 413.92 L1079.87 412.4 L1080.24 410.88 L1080.6 409.35 L1080.95 407.83 L1081.3 406.3"/>
<path d="M1086.8 379.2 L1087.12 377.72 L1087.46 376.23 L1087.79 374.75 L1088.14 373.28 L1088.49 371.8 L1088.85 370.32 L1089.21 368.85 L1089.58 367.37 L1089.95 365.9 L1090.33 364.43 L1090.71 362.96 L1091.1 361.49 L1091.49 360.02 L1091.88 358.56 L1092.28 357.09 L1092.69 355.63 L1093.09 354.16 L1093.5 352.7"/>
<path d="M1101.1 326.5 L1101.53 325.02 L1101.96 323.54 L1102.39 322.06 L1102.82 320.58 L1103.24 319.1 L1103.66 317.61 L1104.08 316.13 L1104.49 314.64 L1104.9 313.16 L1105.31 311.67 L1105.71 310.18 L1106.1 308.69 L1106.48 307.2 L1106.86 305.7 L1107.23 304.2 L1107.6 302.7 L1107.95 301.2 L1108.3 299.7"/>
<path d="M1114.5 272.9 L1114.96 271.39 L1115.45 269.88 L1115.95 268.38 L1116.46 266.88 L1116.99 265.39 L1117.53 263.9 L1118.07 262.41 L1118.62 260.92 L1119.18 259.44 L1119.74 257.95 L1120.29 256.46 L1120.85 254.98 L1121.4 253.49 L1121.94 252 L1122.47 250.5 L1122.99 249 L1123.5 247.5"/>
<path d="M1131.4 221.7 L1131.92 220.26 L1132.46 218.83 L1133.01 217.41 L1133.59 215.99 L1134.17 214.57 L1134.77 213.17 L1135.39 211.76 L1136.01 210.36 L1136.65 208.97 L1137.3 207.58 L1137.96 206.2 L1138.63 204.82 L1139.31 203.44 L1139.99 202.07 L1140.69 200.69 L1141.39 199.33 L1142.09 197.96 L1142.8 196.6"/>
<path d="M1157 172.5 L1157.9 171.22 L1158.82 169.96 L1159.75 168.7 L1160.7 167.46 L1161.67 166.23 L1162.65 165.02 L1163.66 163.83 L1164.69 162.65 L1165.74 161.49 L1166.81 160.34 L1167.9 159.22 L1169.02 158.13 L1170.16 157.05 L1171.33 156 L1172.53 154.97 L1173.75 153.97 L1175 153"/>
<path d="M1200 142.5 L1201.56 142.39 L1203.12 142.33 L1204.69 142.33 L1206.25 142.39 L1207.82 142.48 L1209.39 142.62 L1210.97 142.79 L1212.54 142.98 L1214.12 143.2 L1215.7 143.43 L1217.28 143.67 L1218.86 143.91 L1220.45 144.16 L1222.03 144.39 L1223.62 144.62 L1225.21 144.82 L1226.8 145"/>
<path d="M1254.5 147 L1256.01 147.29 L1257.52 147.62 L1259.02 147.98 L1260.51 148.38 L1262 148.81 L1263.48 149.27 L1264.96 149.75 L1266.43 150.26 L1267.9 150.79 L1269.36 151.34 L1270.82 151.9 L1272.28 152.48 L1273.73 153.07 L1275.18 153.67 L1276.62 154.28 L1278.06 154.89 L1279.5 155.5"/>
<path d="M1305 166.3 L1306.45 166.9 L1307.9 167.5 L1309.35 168.1 L1310.8 168.71 L1312.25 169.32 L1313.69 169.94 L1315.13 170.58 L1316.56 171.23 L1317.98 171.89 L1319.38 172.57 L1320.78 173.27 L1322.16 173.99 L1323.53 174.74 L1324.88 175.51 L1326.2 176.31 L1327.51 177.14 L1328.8 178"/>
<path d="M1350 196.3 L1351.17 197.25 L1352.35 198.17 L1353.55 199.08 L1354.75 199.98 L1355.97 200.85 L1357.2 201.71 L1358.44 202.56 L1359.69 203.4 L1360.95 204.22 L1362.22 205.04 L1363.49 205.84 L1364.76 206.64 L1366.05 207.43 L1367.33 208.21 L1368.62 208.99 L1369.91 209.76 L1371.21 210.53 L1372.5 211.3"/>
<path d="M1395.8 225 L1397.13 225.77 L1398.45 226.54 L1399.78 227.31 L1401.11 228.08 L1402.44 228.84 L1403.77 229.61 L1405.11 230.36 L1406.44 231.12 L1407.78 231.87 L1409.13 232.61 L1410.47 233.35 L1411.82 234.08 L1413.17 234.8 L1414.53 235.52 L1415.89 236.23 L1417.26 236.93 L1418.63 237.62 L1420 238.3"/>
<path d="M1444.9 248.7 L1446.34 249.21 L1447.79 249.71 L1449.24 250.2 L1450.69 250.69 L1452.14 251.17 L1453.59 251.65 L1455.05 252.13 L1456.5 252.61 L1457.95 253.08 L1459.41 253.56 L1460.86 254.04 L1462.31 254.52 L1463.77 255 L1465.22 255.49 L1466.67 255.98 L1468.11 256.48 L1469.56 256.99 L1471 257.5"/>
<path d="M1479.8 260.9 L1481.22 261.5 L1482.63 262.12 L1484.03 262.75 L1485.43 263.39 L1486.83 264.04 L1488.22 264.7 L1489.6 265.37 L1490.98 266.04 L1492.37 266.73 L1493.74 267.41 L1495.12 268.11 L1496.5 268.8 L1497.88 269.5 L1499.26 270.2 L1500.64 270.9 L1502.02 271.6 L1503.41 272.3 L1504.8 273"/>
<path d="M1530 282.3 L1531.5 282.51 L1533 282.68 L1534.51 282.81 L1536.03 282.89 L1537.55 282.93 L1539.08 282.92 L1540.6 282.87 L1542.13 282.79 L1543.66 282.66 L1545.18 282.5 L1546.7 282.3 L1548.21 282.06 L1549.72 281.78 L1551.22 281.47 L1552.71 281.13 L1554.18 280.75 L1555.65 280.34 L1557.1 279.9"/>
<path d="M1582.4 269.5 L1583.86 268.98 L1585.33 268.48 L1586.81 268.01 L1588.3 267.56 L1589.81 267.15 L1591.32 266.78 L1592.83 266.44 L1594.35 266.14 L1595.87 265.89 L1597.4 265.68 L1598.92 265.51 L1600.44 265.4 L1601.95 265.34 L1603.46 265.33 L1604.96 265.38 L1606.45 265.49 L1607.93 265.66 L1609.4 265.9"/>
<path d="M1633.8 278.2 L1635.12 279.13 L1636.43 280.07 L1637.73 281.01 L1639.02 281.95 L1640.3 282.9 L1641.57 283.86 L1642.83 284.82 L1644.08 285.8 L1645.31 286.78 L1646.53 287.78 L1647.73 288.79 L1648.92 289.82 L1650.09 290.86 L1651.24 291.92 L1652.38 292.99 L1653.5 294.09 L1654.6 295.2"/>
<path d="M1672.5 317 L1673.46 318.16 L1674.43 319.31 L1675.41 320.46 L1676.39 321.6 L1677.38 322.73 L1678.37 323.86 L1679.37 324.98 L1680.37 326.11 L1681.37 327.23 L1682.37 328.35 L1683.38 329.47 L1684.38 330.59 L1685.37 331.71 L1686.37 332.84 L1687.36 333.97 L1688.35 335.11 L1689.33 336.25 L1690.3 337.4"/>
<path d="M1707.4 357.5 L1729.3 375.4"/>
<path d="M369.8 620.9 L371.01 621.54 L372.22 622.09 L373.42 622.56 L374.62 622.95 L375.82 623.27 L377.02 623.52 L378.21 623.69 L379.4 623.81 L380.58 623.86 L381.76 623.85 L382.93 623.79 L384.1 623.67 L385.27 623.51 L386.43 623.29 L387.59 623.04 L388.74 622.75 L389.88 622.41 L391.02 622.05 L392.16 621.65 L393.29 621.23 L394.41 620.79 L395.53 620.32 L396.64 619.83 L397.75 619.33 L398.85 618.82 L399.95 618.3 L401.04 617.78 L402.12 617.26 L403.21 616.74 L404.3 616.23 L405.39 615.73 L406.49 615.24 L407.59 614.78 L408.7 614.35 L409.83 613.94 L410.97 613.56 L412.12 613.22 L413.29 612.93 L414.47 612.67 L415.66 612.46 L416.85 612.3 L418.06 612.18 L419.26 612.12 L420.47 612.11 L421.67 612.16 L422.87 612.27 L424.07 612.43 L425.25 612.65 L426.43 612.91 L427.6 613.23 L428.75 613.58 L429.89 613.98 L431.02 614.41 L432.14 614.87 L433.24 615.35 L434.32 615.86 L435.39 616.39 L436.45 616.94 L437.5 617.49 L438.56 618.06 L439.61 618.62 L440.66 619.18 L441.72 619.74 L442.8 620.28 L443.88 620.81 L444.98 621.32 L446.1 621.8 L447.24 622.26 L448.4 622.69 L449.57 623.08 L450.75 623.43 L451.94 623.74 L453.13 624 L454.32 624.22 L455.52 624.38 L456.71 624.48 L457.89 624.52 L459.06 624.5 L460.23 624.42 L461.39 624.29 L462.54 624.11 L463.69 623.9 L464.85 623.66 L466 623.39 L467.16 623.11 L468.32 622.82 L469.49 622.53 L470.67 622.24 L471.87 621.96 L473.07 621.69 L474.27 621.44 L475.49 621.21 L476.7 621 L477.92 620.81 L479.15 620.64 L480.37 620.5 L481.59 620.39 L482.81 620.31 L484.03 620.26 L485.24 620.25 L486.44 620.27 L487.63 620.34 L488.82 620.45 L489.99 620.6 L491.15 620.8 L492.3 621.05 L493.43 621.35 L494.55 621.7 L495.65 622.11 L496.73 622.56 L497.8 623.06 L498.86 623.6 L499.91 624.17 L500.95 624.78 L501.97 625.41 L502.99 626.07 L504.01 626.75 L505.02 627.45 L506.02 628.16 L507.02 628.88 L508.02 629.6 L509.02 630.33 L510.02 631.06 L511.02 631.78 L512.03 632.49 L513.04 633.19 L514.05 633.88 L515.07 634.54 L516.1 635.18 L517.14 635.79 L518.19 636.37 L519.25 636.91 L520.32 637.41 L521.41 637.87 L522.51 638.29 L523.63 638.65 L524.76 638.96 L525.91 639.23 L527.07 639.45 L528.24 639.62 L529.42 639.75 L530.62 639.84 L531.81 639.89 L533.02 639.9 L534.23 639.88 L535.45 639.82 L536.66 639.72 L537.88 639.6 L539.1 639.45 L540.32 639.27 L541.53 639.07 L542.75 638.85 L543.96 638.63 L545.16 638.4 L546.37 638.18 L547.57 637.97 L548.77 637.78 L549.97 637.63 L551.16 637.51 L552.35 637.44 L553.54 637.42 L554.72 637.46 L555.9 637.56 L557.07 637.73 L558.24 637.95 L559.4 638.23 L560.55 638.56 L561.69 638.94 L562.81 639.36 L563.93 639.83 L565.02 640.33 L566.1 640.86 L567.16 641.43 L568.21 642.02 L569.25 642.63 L570.27 643.26 L571.29 643.91 L572.3 644.57 L573.31 645.23 L574.32 645.9 L575.32 646.57 L576.33 647.24 L577.34 647.89 L578.35 648.54 L579.37 649.17 L580.4 649.78 L581.44 650.37 L582.49 650.94 L583.55 651.47 L584.63 651.97 L585.73 652.43 L586.85 652.85 L587.99 653.22 L589.15 653.55 L590.34 653.82 L591.55 654.04 L592.78 654.2 L594.02 654.29 L595.26 654.33 L596.49 654.3 L597.72 654.21 L598.92 654.05 L600.1 653.81 L601.25 653.51 L602.38 653.15 L603.48 652.74 L604.57 652.28 L605.65 651.79 L606.72 651.27 L607.79 650.73 L608.86 650.18 L609.94 649.63 L611.02 649.09 L612.12 648.55 L613.23 648.04 L614.36 647.56 L615.5 647.12 L616.65 646.71 L617.82 646.36 L618.99 646.07 L620.18 645.84 L621.37 645.68 L622.56 645.6 L623.76 645.6 L624.96 645.7 L626.16 645.88 L627.34 646.15 L628.51 646.49 L629.66 646.92 L630.78 647.41 L631.86 647.97 L632.91 648.6 L633.9 649.29 L634.85 650.04 L635.76 650.82 L636.64 651.64 L637.5 652.49 L638.35 653.35 L639.19 654.21 L640.03 655.06 L640.88 655.89 L641.75 656.7 L642.64 657.47 L643.55 658.23 L644.48 658.96 L645.43 659.67 L646.39 660.38 L647.37 661.07 L648.36 661.76 L649.36 662.44 L650.38 663.13 L651.4 663.83 L652.43 664.53 L653.48 665.25 L654.53 665.96 L655.58 666.66 L656.65 667.34 L657.72 667.99 L658.8 668.61 L659.88 669.18 L660.97 669.7 L662.07 670.16 L663.17 670.55 L664.27 670.86 L665.38 671.08 L666.5 671.21 L667.62 671.23 L668.74 671.17 L669.87 671.02 L671 670.79 L672.13 670.5 L673.27 670.15 L674.42 669.75 L675.56 669.31 L676.72 668.85 L677.87 668.36 L679.04 667.86 L680.2 667.35 L681.37 666.85 L682.55 666.37 L683.73 665.91 L684.91 665.48 L686.1 665.1 L687.29 664.76 L688.48 664.49 L689.66 664.29 L690.84 664.17 L692.02 664.14 L693.19 664.2 L694.35 664.37 L695.49 664.65 L696.63 665.01 L697.74 665.46 L698.84 665.99 L699.91 666.58 L700.96 667.23 L701.98 667.92 L702.96 668.66 L703.92 669.43 L704.84 670.22 L705.73 671.05 L706.59 671.89 L707.43 672.76 L708.25 673.65 L709.05 674.55 L709.84 675.47 L710.61 676.4 L711.37 677.34 L712.12 678.28 L712.86 679.23 L713.6 680.18 L714.34 681.13 L715.09 682.07 L715.83 683.01 L716.59 683.94 L717.35 684.87 L718.13 685.77 L718.92 686.67 L719.72 687.54 L720.55 688.39 L721.4 689.23 L722.28 690.03 L723.18 690.81 L724.12 691.56 L725.08 692.28 L726.07 692.96 L727.08 693.62 L728.12 694.24 L729.19 694.83 L730.28 695.38 L731.4 695.9 L732.54 696.38 L733.69 696.8 L734.85 697.1 L736 697.26 L737.14 697.23 L738.26 697.04 L739.36 696.69 L740.45 696.21 L741.51 695.62 L742.57 694.95 L743.6 694.21 L744.62 693.43 L745.63 692.62 L746.61 691.81 L747.58 691 L748.55 690.21 L749.5 689.43 L750.45 688.67 L751.41 687.94 L752.37 687.23 L753.34 686.55 L754.32 685.9 L755.32 685.3 L756.34 684.73 L757.39 684.21 L758.46 683.75 L759.57 683.33 L760.71 682.98 L761.89 682.69 L763.1 682.46 L764.33 682.32 L765.56 682.27 L766.79 682.32 L768 682.48 L769.18 682.75 L770.34 683.13 L771.45 683.61 L772.53 684.18 L773.56 684.83 L774.54 685.55 L775.48 686.33 L776.35 687.16 L777.17 688.03 L777.94 688.94 L778.66 689.89 L779.34 690.87 L779.99 691.88 L780.6 692.92 L781.19 693.97 L781.75 695.04 L782.3 696.13 L782.83 697.22 L783.36 698.32 L783.89 699.43 L784.42 700.53 L784.95 701.62 L785.5 702.71 L786.06 703.79 L786.62 704.86 L787.2 705.92 L787.79 706.97 L788.4 708.01 L789.02 709.04 L789.65 710.06 L790.3 711.07 L790.96 712.06 L791.64 713.04 L792.34 714.01 L793.06 714.96 L793.8 715.89 L794.55 716.81 L795.33 717.72 L796.14 718.6 L796.97 719.45 L797.84 720.29 L798.74 721.1 L799.68 721.88 L800.67 722.62 L801.69 723.33 L802.76 723.98 L803.85 724.55 L804.97 725.02 L806.11 725.39 L807.27 725.62 L808.45 725.71 L809.63 725.64 L810.81 725.44 L811.98 725.12 L813.13 724.69 L814.26 724.18 L815.36 723.6 L816.42 722.97 L817.43 722.3 L818.42 721.61 L819.39 720.91 L820.35 720.2 L821.32 719.51 L822.3 718.84 L823.32 718.2 L824.38 717.61 L825.48 717.07 L826.63 716.61 L827.8 716.24 L828.99 715.99 L830.19 715.87 L831.38 715.9 L832.56 716.1 L833.71 716.44 L834.82 716.92 L835.9 717.52 L836.92 718.21 L837.89 718.98 L838.79 719.82 L839.63 720.7 L840.39 721.63 L841.11 722.6 L841.77 723.6 L842.39 724.63 L842.98 725.69 L843.53 726.76 L844.06 727.85 L844.58 728.94 L845.09 730.04 L845.58 731.14 L846.07 732.24 L846.56 733.34 L847.04 734.45 L847.51 735.55 L847.97 736.66 L848.43 737.77 L848.88 738.88 L849.33 739.99 L849.77 741.1 L850.21 742.22 L850.64 743.34 L851.07 744.45 L851.49 745.57 L851.91 746.69 L852.32 747.82 L852.74 748.94 L853.14 750.07 L853.55 751.2 L853.95 752.33 L854.35 753.46 L854.75 754.59 L855.15 755.72 L855.55 756.86 L855.95 757.99 L856.37 759.12 L856.8 760.24 L857.24 761.36 L857.71 762.47 L858.19 763.57 L858.71 764.66 L859.24 765.74 L859.79 766.81 L860.35 767.88 L860.91 768.95 L861.47 770.01 L862.03 771.07 L862.58 772.13 L863.11 773.19 L863.62 774.26 L864.12 775.33 L864.6 776.41 L865.07 777.49 L865.53 778.57 L866 779.65 L866.47 780.73 L866.94 781.81 L867.44 782.89 L867.95 783.96 L868.48 785.04 L869.04 786.11 L869.64 787.18 L870.27 788.25 L870.94 789.31 L871.66 790.36 L872.43 791.4 L873.25 792.39 L874.11 793.33 L875.03 794.17 L875.99 794.89 L877 795.47 L878.06 795.89 L879.15 796.15 L880.28 796.26 L881.43 796.24 L882.6 796.11 L883.78 795.87 L884.96 795.55 L886.14 795.14 L887.31 794.68 L888.46 794.17 L889.58 793.62 L890.68 793.06 L891.76 792.5 L892.84 791.98 L893.92 791.52 L895.03 791.16 L896.17 790.91 L897.35 790.82 L898.57 790.87 L899.8 791.07 L901.01 791.4 L902.17 791.85 L903.27 792.42 L904.28 793.1 L905.19 793.88 L906.02 794.74 L906.78 795.66 L907.48 796.64 L908.15 797.66 L908.78 798.7 L909.4 799.74 L910.01 800.79 L910.61 801.84 L911.19 802.9 L911.76 803.97 L912.31 805.03 L912.85 806.11 L913.36 807.19 L913.86 808.28 L914.33 809.38 L914.78 810.49 L915.2 811.6 L915.61 812.73 L916 813.86 L916.37 815 L916.72 816.14 L917.06 817.3 L917.39 818.45 L917.71 819.61 L918.01 820.77 L918.31 821.94 L918.6 823.11 L918.89 824.28 L919.17 825.45 L919.45 826.63 L919.74 827.8 L920.02 828.97 L920.31 830.14 L920.6 831.31 L920.89 832.47 L921.2 833.63 L921.51 834.79 L921.84 835.94 L922.17 837.09 L922.53 838.23 L922.89 839.37 L923.27 840.5 L923.65 841.63 L924.04 842.75 L924.42 843.88 L924.8 845.01 L925.17 846.15 L925.52 847.29 L925.86 848.44 L926.19 849.6 L926.51 850.75 L926.82 851.91 L927.12 853.08 L927.42 854.25 L927.71 855.41 L927.99 856.59 L928.28 857.76 L928.56 858.93 L928.83 860.11 L929.11 861.28 L929.39 862.46 L929.67 863.63 L929.95 864.8 L930.24 865.97 L930.53 867.14 L930.82 868.3 L931.12 869.47 L931.43 870.62 L931.75 871.78 L932.08 872.93 L932.41 874.07 L932.76 875.21 L933.13 876.34 L933.51 877.47 L933.91 878.58 L934.33 879.69 L934.78 880.79 L935.26 881.88 L935.77 882.97 L936.31 884.04 L936.88 885.1 L937.5 886.15 L938.15 887.18 L938.86 888.2 L939.6 889.21 L940.4 890.21 L941.25 891.18 L942.15 892.08 L943.09 892.83 L944.08 893.36 L945.12 893.58 L946.18 893.44 L947.26 892.97 L948.32 892.25 L949.32 891.36 L950.24 890.38 L951.06 889.37 L951.77 888.34 L952.39 887.3 L952.95 886.24 L953.45 885.17 L953.9 884.09 L954.33 883 L954.75 881.9 L955.17 880.79 L955.59 879.67 L956.02 878.55 L956.45 877.43 L956.88 876.3 L957.32 875.18 L957.75 874.05 L958.18 872.92 L958.61 871.79 L959.03 870.67 L959.44 869.54 L959.85 868.43 L960.24 867.32 L960.63 866.21 L961.01 865.11 L961.4 864.02 L961.79 862.92 L962.2 861.83 L962.63 860.73 L963.08 859.63 L963.55 858.54 L964.06 857.43 L964.61 856.32 L965.2 855.21 L965.84 854.09 L966.54 852.96 L967.29 851.85 L968.1 850.79 L968.98 849.85 L969.92 849.06 L970.92 848.48 L972 848.16 L973.14 848.13 L974.32 848.39 L975.48 848.89 L976.55 849.58 L977.48 850.4 L978.26 851.33 L978.9 852.33 L979.44 853.41 L979.9 854.52 L980.3 855.67 L980.67 856.83 L981.02 857.99 L981.35 859.15 L981.66 860.32 L981.94 861.49 L982.22 862.66 L982.47 863.83 L982.71 865.01 L982.94 866.19 L983.15 867.37 L983.35 868.55 L983.54 869.74 L983.72 870.92 L983.9 872.11 L984.06 873.29 L984.22 874.48 L984.37 875.67 L984.52 876.86 L984.67 878.05 L984.81 879.24 L984.96 880.44 L985.1 881.63 L985.24 882.82 L985.39 884.01 L985.54 885.2 L985.7 886.39 L985.86 887.58 L986.02 888.77 L986.2 889.95 L986.38 891.14 L986.57 892.33 L986.76 893.51 L986.95 894.69 L987.15 895.88 L987.36 897.06 L987.56 898.25 L987.76 899.43 L987.96 900.61 L988.17 901.8 L988.37 902.98 L988.56 904.16 L988.75 905.35 L988.94 906.53 L989.13 907.72 L989.31 908.91 L989.48 910.09 L989.66 911.28 L989.83 912.47 L989.99 913.66 L990.16 914.85 L990.32 916.04 L990.47 917.23 L990.63 918.42 L990.78 919.61 L990.93 920.8 L991.08 921.99 L991.23 923.18 L991.38 924.37 L991.52 925.56 L991.67 926.75 L991.81 927.95 L991.95 929.14 L992.09 930.33 L992.23 931.52 L992.38 932.71 L992.52 933.91 L992.66 935.1 L992.8 936.29 L992.94 937.48 L993.08 938.67 L993.23 939.87 L993.37 941.06 L993.51 942.25 L993.66 943.44 L993.81 944.63 L993.96 945.82 L994.11 947.01 L994.27 948.2 L994.43 949.39 L994.59 950.58 L994.75 951.77 L994.92 952.96 L995.1 954.14 L995.28 955.33 L995.46 956.52 L995.66 957.7 L995.86 958.88 L996.07 960.07 L996.28 961.25 L996.51 962.43 L996.74 963.61 L996.98 964.79 L997.23 965.96 L997.48 967.14 L997.72 968.32 L997.95 969.49 L998.17 970.67 L998.38 971.86 L998.56 973.04 L998.71 974.23 L998.85 975.41 L998.96 976.6 L999.07 977.8 L999.16 978.99 L999.24 980.19 L999.32 981.38 L999.4 982.58 L999.47 983.78 L999.56 984.97 L999.65 986.17 L999.75 987.37 L999.87 988.56 L1000 989.76 L1000.15 990.95 L1000.31 992.15 L1000.48 993.34 L1000.66 994.53 L1000.85 995.72 L1001.05 996.91 L1001.25 998.1 L1001.45 999.29 L1001.66 1000.48 L1001.87 1001.67 L1002.08 1002.85 L1002.28 1004.04 L1002.48 1005.22 L1002.68 1006.4 L1002.87 1007.58 L1003.06 1008.76 L1003.24 1009.95 L1003.42 1011.13 L1003.59 1012.3 L1003.76 1013.48 L1003.93 1014.66 L1004.09 1015.84 L1004.25 1017.02 L1004.41 1018.2 L1004.57 1019.39 L1004.73 1020.57 L1004.89 1021.75 L1005.05 1022.93 L1005.21 1024.12 L1005.37 1025.3 L1005.53 1026.49 L1005.7 1027.68 L1005.86 1028.87 L1006.03 1030.06 L1006.2 1031.26 L1006.38 1032.45 L1006.56 1033.65 L1006.74 1034.85 L1006.93 1036.05 L1007.13 1037.26 L1007.33 1038.47 L1007.53 1039.68 L1007.75 1040.89 L1007.96 1042.1 L1008.19 1043.31 L1008.41 1044.51 L1008.64 1045.71 L1008.87 1046.89 L1009.11 1048.06 L1009.35 1049.22 L1009.58 1050.36 L1009.82 1051.48 L1010.06 1052.57 L1010.3 1053.65 L1010.54 1054.72 L1010.78 1055.79 L1011.04 1056.89 L1011.3 1058.04 L1011.58 1059.26 L1011.88 1060.56 L1012.19 1061.97 L1012.54 1063.47 L1012.93 1064.96 L1013.38 1066.29 L1013.93 1067.33 L1014.6 1067.95 L1015.39 1068.01 L1016.3 1067.5 L1017.22 1066.59 L1018.06 1065.47 L1018.72 1064.32 L1019.22 1063.16 L1019.59 1061.99 L1019.86 1060.83 L1020.06 1059.66 L1020.22 1058.5 L1020.38 1057.33 L1020.56 1056.17 L1020.78 1055 L1021.03 1053.84 L1021.31 1052.67 L1021.61 1051.5 L1021.91 1050.34 L1022.22 1049.17 L1022.51 1048 L1022.78 1046.82 L1023.03 1045.64 L1023.26 1044.46 L1023.47 1043.28 L1023.66 1042.1 L1023.84 1040.91 L1024.01 1039.72 L1024.16 1038.53 L1024.3 1037.34 L1024.43 1036.15 L1024.55 1034.95 L1024.67 1033.76 L1024.78 1032.56 L1024.89 1031.37 L1025 1030.17 L1025.1 1028.97 L1025.21 1027.78 L1025.31 1026.58 L1025.42 1025.39 L1025.52 1024.19 L1025.62 1022.99 L1025.72 1021.8 L1025.82 1020.6 L1025.92 1019.4 L1026.01 1018.21 L1026.11 1017.01 L1026.2 1015.82 L1026.29 1014.62 L1026.39 1013.42 L1026.48 1012.23 L1026.57 1011.03 L1026.66 1009.83 L1026.75 1008.63 L1026.83 1007.44 L1026.92 1006.24 L1027.01 1005.04 L1027.09 1003.85 L1027.18 1002.65 L1027.26 1001.45 L1027.34 1000.25 L1027.42 999.06 L1027.51 997.86 L1027.59 996.66 L1027.67 995.46 L1027.75 994.27 L1027.83 993.07 L1027.91 991.87 L1027.98 990.67 L1028.06 989.48 L1028.14 988.28 L1028.22 987.08 L1028.29 985.88 L1028.37 984.69 L1028.45 983.49 L1028.52 982.29 L1028.6 981.09 L1028.67 979.9 L1028.75 978.7 L1028.82 977.5 L1028.9 976.3 L1028.97 975.1 L1029.04 973.91 L1029.12 972.71 L1029.19 971.51 L1029.27 970.31 L1029.34 969.11 L1029.42 967.92 L1029.49 966.72 L1029.56 965.52 L1029.64 964.32 L1029.71 963.13 L1029.79 961.93 L1029.86 960.73 L1029.94 959.53 L1030.01 958.33 L1030.09 957.14 L1030.16 955.94 L1030.24 954.74 L1030.32 953.54 L1030.39 952.35 L1030.47 951.15 L1030.55 949.95 L1030.63 948.75 L1030.71 947.55 L1030.78 946.36 L1030.86 945.16 L1030.94 943.96 L1031.02 942.76 L1031.11 941.57 L1031.19 940.37 L1031.27 939.17 L1031.35 937.97 L1031.44 936.78 L1031.52 935.58 L1031.61 934.38 L1031.69 933.19 L1031.78 931.99 L1031.87 930.79 L1031.95 929.59 L1032.04 928.4 L1032.13 927.2 L1032.22 926 L1032.31 924.81 L1032.4 923.61 L1032.49 922.41 L1032.58 921.21 L1032.67 920.02 L1032.75 918.82 L1032.84 917.62 L1032.93 916.43 L1033.02 915.23 L1033.11 914.03 L1033.2 912.84 L1033.29 911.64 L1033.38 910.44 L1033.46 909.24 L1033.55 908.05 L1033.64 906.85 L1033.72 905.65 L1033.81 904.46 L1033.89 903.26 L1033.98 902.06 L1034.06 900.86 L1034.14 899.67 L1034.22 898.47 L1034.3 897.27 L1034.38 896.07 L1034.46 894.88 L1034.54 893.68 L1034.61 892.48 L1034.69 891.28 L1034.76 890.09 L1034.84 888.89 L1034.91 887.69 L1034.98 886.49 L1035.04 885.29 L1035.11 884.1 L1035.18 882.9 L1035.24 881.7 L1035.3 880.5 L1035.36 879.3 L1035.42 878.1 L1035.48 876.9 L1035.54 875.71 L1035.59 874.51 L1035.65 873.31 L1035.7 872.11 L1035.76 870.91 L1035.81 869.71 L1035.86 868.51 L1035.91 867.31 L1035.96 866.11 L1036.01 864.91 L1036.06 863.72 L1036.11 862.52 L1036.16 861.32 L1036.21 860.12 L1036.25 858.92 L1036.3 857.72 L1036.35 856.52 L1036.39 855.32 L1036.44 854.12 L1036.49 852.92 L1036.53 851.72 L1036.58 850.52 L1036.62 849.32 L1036.67 848.12 L1036.72 846.93 L1036.76 845.73 L1036.81 844.53 L1036.86 843.33 L1036.91 842.13 L1036.96 840.93 L1037.01 839.73 L1037.06 838.53 L1037.11 837.33 L1037.16 836.13 L1037.21 834.93 L1037.26 833.73 L1037.32 832.54 L1037.37 831.34 L1037.43 830.14 L1037.48 828.94 L1037.54 827.74 L1037.6 826.54 L1037.66 825.34 L1037.72 824.14 L1037.78 822.95 L1037.85 821.75 L1037.91 820.55 L1037.98 819.35 L1038.04 818.15 L1038.11 816.95 L1038.18 815.76 L1038.25 814.56 L1038.32 813.36 L1038.39 812.16 L1038.46 810.96 L1038.53 809.77 L1038.6 808.57 L1038.67 807.37 L1038.74 806.17 L1038.81 804.97 L1038.88 803.78 L1038.95 802.58 L1039.03 801.38 L1039.1 800.18 L1039.17 798.98 L1039.24 797.79 L1039.31 796.59 L1039.38 795.39 L1039.45 794.19 L1039.52 792.99 L1039.59 791.8 L1039.65 790.6 L1039.72 789.4 L1039.79 788.2 L1039.85 787 L1039.92 785.8 L1039.98 784.61 L1040.04 783.41 L1040.1 782.21 L1040.16 781.01 L1040.22 779.81 L1040.28 778.61 L1040.33 777.41 L1040.39 776.22 L1040.44 775.02 L1040.49 773.82 L1040.55 772.62 L1040.6 771.42 L1040.65 770.22 L1040.69 769.02 L1040.74 767.82 L1040.79 766.62 L1040.83 765.42 L1040.88 764.22 L1040.92 763.02 L1040.97 761.83 L1041.01 760.63 L1041.06 759.43 L1041.1 758.23 L1041.14 757.03 L1041.18 755.83 L1041.22 754.63 L1041.26 753.43 L1041.3 752.23 L1041.34 751.03 L1041.38 749.83 L1041.42 748.63 L1041.46 747.43 L1041.5 746.23 L1041.54 745.03 L1041.57 743.83 L1041.61 742.63 L1041.65 741.43 L1041.69 740.23 L1041.73 739.03 L1041.77 737.83 L1041.8 736.63 L1041.84 735.43 L1041.88 734.23 L1041.92 733.03 L1041.96 731.83 L1042 730.63 L1042.04 729.43 L1042.08 728.24 L1042.12 727.04 L1042.16 725.84 L1042.21 724.64 L1042.25 723.44 L1042.29 722.24 L1042.34 721.04 L1042.38 719.84 L1042.43 718.64 L1042.47 717.44 L1042.52 716.24 L1042.57 715.04 L1042.61 713.84 L1042.66 712.64 L1042.71 711.44 L1042.76 710.25 L1042.81 709.05 L1042.87 707.85 L1042.92 706.65 L1042.97 705.45 L1043.02 704.25 L1043.08 703.05 L1043.13 701.85 L1043.19 700.65 L1043.25 699.46 L1043.3 698.26 L1043.36 697.06 L1043.42 695.86 L1043.48 694.66 L1043.54 693.46 L1043.6 692.26 L1043.66 691.07 L1043.72 689.87 L1043.78 688.67 L1043.84 687.47 L1043.9 686.27 L1043.97 685.07 L1044.03 683.87 L1044.1 682.68 L1044.16 681.48 L1044.23 680.28 L1044.29 679.08 L1044.36 677.88 L1044.43 676.69 L1044.5 675.49 L1044.56 674.29 L1044.63 673.09 L1044.7 671.89 L1044.77 670.69 L1044.84 669.5 L1044.91 668.3 L1044.99 667.1 L1045.06 665.9 L1045.13 664.7 L1045.2 663.51 L1045.28 662.31 L1045.35 661.11 L1045.43 659.91 L1045.5 658.72 L1045.58 657.52 L1045.65 656.32 L1045.73 655.12 L1045.8 653.92 L1045.88 652.73 L1045.96 651.53 L1046.04 650.33 L1046.11 649.13 L1046.19 647.94 L1046.27 646.74 L1046.35 645.54 L1046.43 644.34 L1046.51 643.15 L1046.59 641.95 L1046.67 640.75 L1046.75 639.55 L1046.83 638.36 L1046.91 637.16 L1046.99 635.96 L1047.07 634.76 L1047.15 633.56 L1047.23 632.37 L1047.31 631.17 L1047.39 629.97 L1047.47 628.77 L1047.55 627.58 L1047.63 626.38 L1047.71 625.18 L1047.79 623.98 L1047.86 622.79 L1047.94 621.59 L1048.02 620.39 L1048.09 619.19 L1048.17 617.99 L1048.24 616.8 L1048.32 615.6 L1048.39 614.4 L1048.46 613.2 L1048.54 612 L1048.61 610.81 L1048.68 609.61 L1048.75 608.41 L1048.81 607.21 L1048.88 606.01 L1048.95 604.82 L1049.01 603.62 L1049.08 602.42 L1049.14 601.22 L1049.2 600.02 L1049.26 598.82 L1049.32 597.62 L1049.38 596.43 L1049.43 595.23 L1049.49 594.03 L1049.54 592.83 L1049.59 591.63 L1049.64 590.43 L1049.69 589.23 L1049.74 588.03 L1049.78 586.83 L1049.83 585.64 L1049.87 584.44 L1049.91 583.24 L1049.95 582.04 L1049.98 580.84 L1050.02 579.64 L1050.05 578.44 L1050.08 577.24 L1050.11 576.04 L1050.14 574.84 L1050.16 573.64 L1050.19 572.44 L1050.21 571.24 L1050.23 570.04 L1050.26 568.84 L1050.28 567.64 L1050.3 566.44 L1050.32 565.23 L1050.33 564.03 L1050.35 562.83 L1050.37 561.63 L1050.39 560.43 L1050.41 559.23 L1050.43 558.03 L1050.45 556.83 L1050.47 555.63 L1050.49 554.43 L1050.51 553.23 L1050.54 552.03 L1050.56 550.83 L1050.59 549.63 L1050.62 548.43 L1050.64 547.23 L1050.68 546.03 L1050.71 544.83 L1050.74 543.63 L1050.78 542.43 L1050.82 541.23 L1050.86 540.03 L1050.91 538.83 L1050.96 537.64 L1051.01 536.44 L1051.06 535.24 L1051.11 534.04 L1051.17 532.84 L1051.23 531.64 L1051.29 530.44 L1051.35 529.25 L1051.42 528.05 L1051.48 526.85 L1051.55 525.65 L1051.62 524.45 L1051.68 523.26 L1051.75 522.06 L1051.83 520.86 L1051.9 519.66 L1051.97 518.46 L1052.04 517.27 L1052.12 516.07 L1052.19 514.87 L1052.26 513.67 L1052.34 512.48 L1052.41 511.28 L1052.48 510.08 L1052.55 508.88 L1052.63 507.68 L1052.7 506.49 L1052.77 505.29 L1052.84 504.09 L1052.91 502.89 L1052.98 501.69 L1053.04 500.5 L1053.11 499.3 L1053.18 498.1 L1053.24 496.9 L1053.3 495.7 L1053.37 494.5 L1053.43 493.3 L1053.49 492.11 L1053.55 490.91 L1053.61 489.71 L1053.67 488.51 L1053.73 487.31 L1053.79 486.11 L1053.85 484.91 L1053.91 483.71 L1053.96 482.51 L1054.02 481.32 L1054.08 480.12 L1054.13 478.92 L1054.19 477.72 L1054.24 476.52 L1054.3 475.32 L1054.35 474.12 L1054.4 472.92 L1054.46 471.72 L1054.51 470.52 L1054.56 469.32 L1054.61 468.12 L1054.67 466.92 L1054.72 465.73 L1054.77 464.53 L1054.82 463.33 L1054.87 462.13 L1054.92 460.93 L1054.97 459.73 L1055.02 458.53 L1055.07 457.33 L1055.12 456.13 L1055.17 454.93 L1055.22 453.73 L1055.28 452.53 L1055.33 451.33 L1055.38 450.13 L1055.43 448.93 L1055.48 447.73 L1055.53 446.53 L1055.58 445.34 L1055.63 444.14 L1055.68 442.94 L1055.73 441.74 L1055.78 440.54 L1055.83 439.34 L1055.88 438.14 L1055.94 436.94 L1055.99 435.74 L1056.04 434.54 L1056.09 433.34 L1056.15 432.14 L1056.2 430.94 L1056.25 429.75 L1056.31 428.55 L1056.36 427.35 L1056.42 426.15 L1056.47 424.95 L1056.53 423.75 L1056.59 422.55 L1056.64 421.35 L1056.7 420.15 L1056.76 418.95 L1056.82 417.76 L1056.88 416.56 L1056.94 415.36 L1057 414.16 L1057.06 412.96 L1057.12 411.76 L1057.18 410.56 L1057.24 409.37 L1057.31 408.17 L1057.37 406.97 L1057.43 405.77 L1057.5 404.57 L1057.56 403.37 L1057.63 402.18 L1057.69 400.98 L1057.76 399.78 L1057.83 398.58 L1057.9 397.38 L1057.96 396.19 L1058.03 394.99 L1058.1 393.79 L1058.17 392.59 L1058.24 391.39 L1058.31 390.2 L1058.38 389 L1058.45 387.8 L1058.52 386.6 L1058.6 385.41 L1058.67 384.21 L1058.74 383.01 L1058.82 381.81 L1058.89 380.62 L1058.96 379.42 L1059.04 378.22 L1059.11 377.02 L1059.19 375.82 L1059.26 374.63 L1059.34 373.43 L1059.42 372.23 L1059.49 371.04 L1059.57 369.84 L1059.65 368.64 L1059.73 367.44 L1059.81 366.25 L1059.89 365.05 L1059.97 363.85 L1060.05 362.65 L1060.13 361.46 L1060.21 360.26 L1060.29 359.06 L1060.37 357.86 L1060.45 356.67 L1060.53 355.47 L1060.61 354.27 L1060.7 353.08 L1060.78 351.88 L1060.86 350.68 L1060.95 349.49 L1061.03 348.29 L1061.11 347.09 L1061.2 345.89 L1061.28 344.7 L1061.37 343.5 L1061.45 342.3 L1061.54 341.11 L1061.63 339.91 L1061.71 338.71 L1061.8 337.51 L1061.88 336.32 L1061.97 335.12 L1062.06 333.92 L1062.15 332.73 L1062.23 331.53 L1062.32 330.33 L1062.41 329.14 L1062.5 327.94 L1062.59 326.74 L1062.68 325.55 L1062.77 324.35 L1062.86 323.15 L1062.95 321.95 L1063.04 320.76 L1063.13 319.56 L1063.22 318.36 L1063.31 317.17 L1063.4 315.97 L1063.49 314.77 L1063.58 313.58 L1063.67 312.38 L1063.76 311.18 L1063.85 309.99 L1063.95 308.79 L1064.04 307.59 L1064.13 306.39 L1064.22 305.2 L1064.32 304 L1064.41 302.8 L1064.5 301.61 L1064.59 300.41 L1064.69 299.21 L1064.78 298.02 L1064.87 296.82 L1064.97 295.62 L1065.06 294.42 L1065.16 293.23 L1065.25 292.03 L1065.34 290.83 L1065.44 289.64 L1065.53 288.44 L1065.63 287.24 L1065.72 286.04 L1065.82 284.85 L1065.91 283.65 L1066.01 282.45 L1066.1 281.26 L1066.2 280.06 L1066.29 278.86 L1066.39 277.66 L1066.48 276.47 L1066.58 275.27 L1066.67 274.07 L1066.77 272.87 L1066.86 271.68 L1066.96 270.48 L1067.05 269.28 L1067.15 268.08 L1067.25 266.89 L1067.34 265.69 L1067.44 264.49 L1067.54 263.3 L1067.63 262.1 L1067.73 260.9 L1067.83 259.71 L1067.93 258.51 L1068.03 257.31 L1068.14 256.12 L1068.24 254.92 L1068.35 253.73 L1068.46 252.54 L1068.57 251.34 L1068.68 250.15 L1068.79 248.96 L1068.91 247.76 L1069.03 246.57 L1069.15 245.38 L1069.27 244.19 L1069.4 243 L1069.52 241.82 L1069.66 240.63 L1069.79 239.44 L1069.93 238.26 L1070.07 237.07 L1070.21 235.89 L1070.37 234.71 L1070.55 233.53 L1070.75 232.35 L1070.98 231.17 L1071.25 230 L1071.55 228.83 L1071.91 227.67 L1072.31 226.51 L1072.78 225.36 L1073.31 224.21 L1073.94 223.13 L1074.67 222.15 L1075.54 221.33 L1076.52 220.85 L1077.56 220.91 L1078.56 221.46 L1079.45 222.32 L1080.16 223.32 L1080.72 224.42 L1081.19 225.56 L1081.6 226.72 L1081.96 227.89 L1082.29 229.06 L1082.59 230.23 L1082.85 231.4 L1083.09 232.57 L1083.3 233.75 L1083.5 234.93 L1083.67 236.11 L1083.84 237.29 L1084 238.47 L1084.16 239.66 L1084.32 240.84 L1084.49 242.02 L1084.66 243.21 L1084.84 244.39 L1085.04 245.57 L1085.24 246.75 L1085.45 247.93 L1085.67 249.11 L1085.89 250.29 L1086.12 251.47 L1086.35 252.65 L1086.58 253.83 L1086.8 255.02 L1087.03 256.2 L1087.25 257.38 L1087.47 258.56 L1087.68 259.75 L1087.88 260.93 L1088.08 262.12 L1088.27 263.3 L1088.45 264.49 L1088.63 265.68 L1088.8 266.86 L1088.97 268.05 L1089.14 269.24 L1089.3 270.43 L1089.45 271.62 L1089.61 272.81 L1089.76 274 L1089.91 275.2 L1090.05 276.39 L1090.2 277.58 L1090.34 278.77 L1090.49 279.96 L1090.63 281.15 L1090.78 282.34 L1090.92 283.54 L1091.06 284.73 L1091.21 285.92 L1091.35 287.11 L1091.5 288.3 L1091.64 289.49 L1091.79 290.68 L1091.93 291.88 L1092.07 293.07 L1092.22 294.26 L1092.36 295.45 L1092.51 296.64 L1092.65 297.83 L1092.8 299.02 L1092.94 300.21 L1093.09 301.4 L1093.23 302.6 L1093.38 303.79 L1093.52 304.98 L1093.66 306.17 L1093.81 307.36 L1093.95 308.55 L1094.1 309.74 L1094.24 310.93 L1094.39 312.12 L1094.53 313.32 L1094.68 314.51 L1094.82 315.7 L1094.97 316.89 L1095.11 318.08 L1095.25 319.27 L1095.4 320.46 L1095.54 321.65 L1095.69 322.85 L1095.83 324.04 L1095.98 325.23 L1096.12 326.42 L1096.27 327.61 L1096.41 328.8 L1096.55 329.99 L1096.7 331.18 L1096.84 332.38 L1096.99 333.57 L1097.13 334.76 L1097.28 335.95 L1097.42 337.14 L1097.56 338.33 L1097.71 339.53 L1097.85 340.72 L1098 341.91 L1098.14 343.1 L1098.29 344.29 L1098.43 345.48 L1098.57 346.68 L1098.72 347.87 L1098.86 349.06 L1099.01 350.25 L1099.15 351.44 L1099.3 352.64 L1099.44 353.83 L1099.59 355.02 L1099.73 356.21 L1099.88 357.4 L1100.03 358.59 L1100.17 359.79 L1100.32 360.98 L1100.47 362.17 L1100.62 363.36 L1100.77 364.55 L1100.92 365.74 L1101.07 366.93 L1101.22 368.12 L1101.37 369.32 L1101.52 370.51 L1101.67 371.7 L1101.83 372.89 L1101.98 374.08 L1102.14 375.27 L1102.29 376.46 L1102.45 377.65 L1102.61 378.84 L1102.77 380.03 L1102.93 381.22 L1103.09 382.41 L1103.25 383.6 L1103.41 384.78 L1103.57 385.97 L1103.74 387.16 L1103.9 388.35 L1104.07 389.54 L1104.24 390.73 L1104.41 391.91 L1104.58 393.1 L1104.75 394.29 L1104.92 395.48 L1105.1 396.66 L1105.27 397.85 L1105.45 399.04 L1105.63 400.22 L1105.81 401.41 L1105.99 402.59 L1106.18 403.78 L1106.36 404.96 L1106.55 406.15 L1106.73 407.33 L1106.92 408.51 L1107.11 409.7 L1107.31 410.88 L1107.51 412.06 L1107.71 413.24 L1107.92 414.42 L1108.14 415.6 L1108.36 416.78 L1108.59 417.96 L1108.83 419.13 L1109.08 420.31 L1109.34 421.48 L1109.6 422.65 L1109.89 423.81 L1110.18 424.98 L1110.48 426.14 L1110.81 427.3 L1111.14 428.46 L1111.49 429.62 L1111.86 430.77 L1112.24 431.92 L1112.64 433.07 L1113.07 434.21 L1113.53 435.33 L1114.06 436.41 L1114.67 437.45 L1115.38 438.43 L1116.22 439.33 L1117.19 440.13 L1118.26 440.75 L1119.38 441.08 L1120.47 441 L1121.5 440.51 L1122.47 439.72 L1123.37 438.76 L1124.19 437.74 L1124.95 436.75 L1125.66 435.76 L1126.32 434.78 L1126.95 433.8 L1127.55 432.81 L1128.13 431.8 L1128.71 430.78 L1129.26 429.74 L1129.8 428.69 L1130.33 427.62 L1130.83 426.54 L1131.32 425.44 L1131.79 424.33 L1132.24 423.21 L1132.68 422.07 L1133.09 420.92 L1133.48 419.76 L1133.85 418.59 L1134.2 417.41 L1134.53 416.21 L1134.83 415.01 L1135.12 413.8 L1135.41 412.58 L1135.7 411.38 L1136 410.17 L1136.32 408.99 L1136.67 407.82 L1137.05 406.67 L1137.49 405.55 L1137.97 404.45 L1138.52 403.4 L1139.13 402.38 L1139.83 401.41 L1140.61 400.49 L1141.49 399.63 L1142.47 398.83 L1143.54 398.12 L1144.65 397.57 L1145.79 397.22 L1146.92 397.11 L1148.03 397.3 L1149.08 397.77 L1150.08 398.46 L1151.01 399.29 L1151.89 400.18 L1152.7 401.1 L1153.46 402.05 L1154.16 403.04 L1154.82 404.05 L1155.43 405.08 L1156 406.13 L1156.53 407.21 L1157.03 408.29 L1157.5 409.4 L1157.95 410.51 L1158.38 411.64 L1158.79 412.77 L1159.19 413.91 L1159.58 415.05 L1159.97 416.19 L1160.35 417.33 L1160.73 418.47 L1161.11 419.61 L1161.48 420.75 L1161.86 421.89 L1162.22 423.03 L1162.59 424.17 L1162.96 425.31 L1163.32 426.45 L1163.68 427.59 L1164.04 428.74 L1164.4 429.88 L1164.75 431.02 L1165.11 432.17 L1165.46 433.31 L1165.81 434.46 L1166.16 435.6 L1166.51 436.75 L1166.86 437.9 L1167.21 439.05 L1167.56 440.2 L1167.91 441.35 L1168.26 442.51 L1168.61 443.66 L1168.96 444.82 L1169.31 445.98 L1169.65 447.13 L1170 448.29 L1170.35 449.45 L1170.69 450.6 L1171.03 451.76 L1171.36 452.91 L1171.7 454.06 L1172.02 455.21 L1172.35 456.35 L1172.66 457.49 L1172.98 458.63 L1173.28 459.76 L1173.6 460.89 L1173.93 462.02 L1174.28 463.14 L1174.67 464.26 L1175.1 465.39 L1175.59 466.51 L1176.13 467.64 L1176.75 468.77 L1177.44 469.91 L1178.21 471.03 L1179.04 472.13 L1179.92 473.2 L1180.86 474.23 L1181.84 475.2 L1182.85 476.11 L1183.88 476.93 L1184.94 477.67 L1186 478.3 L1187.07 478.82 L1188.14 479.21 L1189.19 479.46 L1190.22 479.56 L1191.22 479.5 L1192.2 479.27 L1193.13 478.88 L1194.04 478.34 L1194.91 477.68 L1195.76 476.89 L1196.58 476.01 L1197.37 475.04 L1198.14 474 L1198.89 472.9 L1199.62 471.76 L1200.33 470.59 L1201.03 469.41 L1201.71 468.23 L1202.38 467.07 L1203.04 465.94 L1203.69 464.85 L1204.34 463.79 L1204.99 462.76 L1205.64 461.77 L1206.29 460.79 L1206.96 459.83 L1207.64 458.89 L1208.33 457.97 L1209.05 457.05 L1209.79 456.14 L1210.55 455.23 L1211.35 454.31 L1212.18 453.4 L1213.05 452.49 L1213.96 451.63 L1214.92 450.86 L1215.92 450.2 L1216.97 449.7 L1218.07 449.38 L1219.22 449.29 L1220.42 449.44 L1221.62 449.8 L1222.78 450.32 L1223.86 450.97 L1224.84 451.71 L1225.72 452.53 L1226.53 453.41 L1227.28 454.33 L1228.01 455.28 L1228.71 456.24 L1229.41 457.22 L1230.1 458.2 L1230.77 459.19 L1231.44 460.19 L1232.09 461.2 L1232.74 462.21 L1233.37 463.23 L1234 464.26 L1234.61 465.29 L1235.22 466.33 L1235.82 467.37 L1236.42 468.41 L1237.01 469.46 L1237.6 470.5 L1238.2 471.55 L1238.79 472.59 L1239.39 473.63 L1239.99 474.67 L1240.6 475.7 L1241.22 476.72 L1241.85 477.75 L1242.49 478.76 L1243.14 479.76 L1243.81 480.76 L1244.49 481.75 L1245.19 482.72 L1245.91 483.68 L1246.65 484.63 L1247.43 485.55 L1248.24 486.44 L1249.11 487.28 L1250.04 488.06 L1251.04 488.77 L1252.11 489.4 L1253.24 489.93 L1254.41 490.33 L1255.59 490.58 L1256.76 490.65 L1257.91 490.55 L1259.04 490.29 L1260.13 489.89 L1261.21 489.37 L1262.25 488.74 L1263.27 488.04 L1264.25 487.27 L1265.21 486.47 L1266.14 485.64 L1267.04 484.81 L1267.91 483.99 L1268.75 483.16 L1269.56 482.33 L1270.34 481.47 L1271.1 480.57 L1271.83 479.65 L1272.55 478.7 L1273.26 477.73 L1273.98 476.76 L1274.7 475.78 L1275.43 474.82 L1276.19 473.87 L1276.97 472.94 L1277.79 472.04 L1278.66 471.19 L1279.57 470.38 L1280.53 469.62 L1281.57 468.93 L1282.66 468.31 L1283.81 467.76 L1285.01 467.29 L1286.25 466.9 L1287.5 466.59 L1288.78 466.36 L1290.06 466.23 L1291.33 466.19 L1292.59 466.24 L1293.83 466.4 L1295.02 466.66 L1296.18 467.02 L1297.27 467.49 L1298.3 468.08 L1299.26 468.78 L1300.17 469.56 L1301.02 470.41 L1301.84 471.32 L1302.63 472.26 L1303.4 473.21 L1304.17 474.15 L1304.94 475.07 L1305.72 475.97 L1306.51 476.86 L1307.3 477.74 L1308.11 478.6 L1308.92 479.47 L1309.75 480.33 L1310.59 481.19 L1311.45 482.05 L1312.32 482.9 L1313.22 483.74 L1314.13 484.55 L1315.07 485.33 L1316.03 486.07 L1317.02 486.77 L1318.04 487.41 L1319.08 488 L1320.16 488.52 L1321.27 488.96 L1322.41 489.33 L1323.58 489.61 L1324.76 489.78 L1325.95 489.85 L1327.12 489.79 L1328.27 489.6 L1329.41 489.31 L1330.52 488.92 L1331.61 488.44 L1332.69 487.89 L1333.74 487.27 L1334.78 486.59 L1335.79 485.87 L1336.79 485.12 L1337.76 484.35 L1338.71 483.57 L1339.64 482.78 L1340.55 482 L1341.46 481.21 L1342.36 480.43 L1343.26 479.66 L1344.16 478.91 L1345.08 478.16 L1346 477.43 L1346.95 476.73 L1347.92 476.04 L1348.91 475.38 L1349.94 474.75 L1351 474.15 L1352.1 473.59 L1353.22 473.08 L1354.37 472.64 L1355.53 472.26 L1356.69 471.97 L1357.87 471.77 L1359.03 471.67 L1360.19 471.68 L1361.34 471.82 L1362.47 472.07 L1363.58 472.43 L1364.68 472.89 L1365.75 473.43 L1366.81 474.05 L1367.85 474.72 L1368.87 475.45 L1369.86 476.21 L1370.84 477 L1371.8 477.81 L1372.73 478.62 L1373.64 479.43 L1374.54 480.24 L1375.42 481.03 L1376.3 481.82 L1377.17 482.6 L1378.05 483.37 L1378.94 484.12 L1379.84 484.86 L1380.75 485.58 L1381.69 486.28 L1382.66 486.97 L1383.66 487.63 L1384.69 488.27 L1385.76 488.88 L1386.87 489.45 L1388 489.99 L1389.15 490.47 L1390.32 490.89 L1391.49 491.24 L1392.67 491.52 L1393.85 491.71 L1395.02 491.81 L1396.17 491.81 L1397.31 491.71 L1398.44 491.52 L1399.55 491.24 L1400.65 490.89 L1401.74 490.46 L1402.82 489.96 L1403.89 489.41 L1404.95 488.8 L1406 488.15 L1407.05 487.47 L1408.1 486.75 L1409.14 486.01 L1410.18 485.26 L1411.22 484.49 L1412.25 483.72 L1413.29 482.96 L1414.33 482.21 L1415.38 481.47 L1416.43 480.77 L1417.48 480.09 L1418.54 479.46 L1419.61 478.87 L1420.69 478.34 L1421.78 477.86 L1422.87 477.46 L1423.98 477.13 L1425.11 476.88 L1426.25 476.71 L1427.39 476.63 L1428.54 476.63 L1429.7 476.71 L1430.85 476.86 L1432 477.09 L1433.15 477.38 L1434.29 477.73 L1435.42 478.13 L1436.55 478.57 L1437.67 479.05 L1438.79 479.57 L1439.89 480.11 L1440.99 480.67 L1442.07 481.24 L1443.15 481.82 L1444.22 482.4 L1445.28 482.96 L1446.35 483.52 L1447.42 484.05 L1448.49 484.55 L1449.58 485.01 L1450.67 485.43 L1451.79 485.79 L1452.92 486.1 L1454.08 486.33 L1455.26 486.5 L1456.46 486.6 L1457.67 486.63 L1458.89 486.6 L1460.11 486.5 L1461.33 486.35 L1462.53 486.13 L1463.73 485.86 L1464.9 485.53 L1466.04 485.14 L1467.16 484.71 L1468.26 484.22 L1469.33 483.7 L1470.38 483.13 L1471.41 482.53 L1472.42 481.9 L1473.42 481.24 L1474.41 480.56 L1475.38 479.86 L1476.35 479.15 L1477.31 478.42 L1478.27 477.69 L1479.22 476.96 L1480.18 476.23 L1481.14 475.51 L1482.1 474.8 L1483.08 474.1 L1484.07 473.43 L1485.07 472.79 L1486.1 472.18 L1487.14 471.6 L1488.21 471.07 L1489.3 470.58 L1490.43 470.14 L1491.58 469.76 L1492.75 469.43 L1493.93 469.15 L1495.13 468.93 L1496.34 468.76 L1497.55 468.65 L1498.76 468.61 L1499.96 468.62 L1501.16 468.7 L1502.34 468.83 L1503.52 469.03 L1504.68 469.27 L1505.83 469.56 L1506.97 469.89 L1508.11 470.25 L1509.25 470.63 L1510.38 471.03 L1511.51 471.43 L1512.64 471.85 L1513.78 472.25 L1514.92 472.65 L1516.06 473.04 L1517.21 473.4 L1518.37 473.73 L1519.54 474.02 L1520.73 474.27 L1521.91 474.48 L1523.11 474.64 L1524.31 474.76 L1525.51 474.82 L1526.7 474.83 L1527.9 474.79 L1529.08 474.68 L1530.26 474.52 L1531.43 474.29 L1532.58 474 L1533.72 473.66 L1534.85 473.26 L1535.96 472.81 L1537.06 472.31 L1538.15 471.78 L1539.23 471.21 L1540.29 470.61 L1541.33 469.98 L1542.36 469.33 L1543.38 468.66 L1544.39 467.98 L1545.39 467.29 L1546.39 466.6 L1547.39 465.92 L1548.38 465.24 L1549.38 464.57 L1550.39 463.92 L1551.41 463.3 L1552.44 462.7 L1553.49 462.14 L1554.56 461.61 L1555.64 461.13 L1556.76 460.7 L1557.9 460.32 L1559.07 460 L1560.26 459.74 L1561.46 459.53 L1562.68 459.38 L1563.91 459.28 L1565.14 459.25 L1566.38 459.27 L1567.6 459.35 L1568.82 459.49 L1570.02 459.69 L1571.21 459.95 L1572.37 460.28 L1573.5 460.66 L1574.61 461.1 L1575.69 461.6 L1576.75 462.15 L1577.78 462.74 L1578.8 463.36 L1579.81 464 L1580.81 464.67 L1581.8 465.36 L1582.8 466.05 L1583.79 466.74 L1584.8 467.43 L1585.81 468.1 L1586.83 468.76 L1587.86 469.39 L1588.9 470 L1589.96 470.59 L1591.03 471.13 L1592.11 471.64 L1593.21 472.1 L1594.33 472.51 L1595.47 472.88 L1596.62 473.18 L1597.79 473.42 L1598.98 473.6 L1600.18 473.73 L1601.38 473.79 L1602.59 473.8 L1603.8 473.75 L1605.01 473.65 L1606.21 473.49 L1607.39 473.29 L1608.56 473.03 L1609.72 472.72 L1610.85 472.37 L1611.98 471.98 L1613.09 471.55 L1614.19 471.1 L1615.28 470.63 L1616.37 470.15 L1617.46 469.65 L1618.55 469.15 L1619.64 468.65 L1620.73 468.16 L1621.84 467.69 L1622.95 467.23 L1624.08 466.79 L1625.22 466.39 L1626.38 466.03 L1627.55 465.7 L1628.74 465.42 L1629.94 465.18 L1631.15 465 L1632.37 464.86 L1633.58 464.77 L1634.79 464.75 L1635.99 464.77 L1637.18 464.86 L1638.36 465.01 L1639.52 465.22 L1640.66 465.49 L1641.79 465.8 L1642.91 466.15 L1644.03 466.54 L1645.14 466.96 L1646.24 467.39 L1647.35 467.83 L1648.47 468.27 L1649.59 468.71 L1650.72 469.14 L1651.87 469.55 L1653.02 469.95 L1654.18 470.32 L1655.35 470.67 L1656.53 471 L1657.71 471.3 L1658.9 471.57 L1660.09 471.8 L1661.28 472.01 L1662.47 472.18 L1663.66 472.31 L1664.86 472.4 L1666.04 472.44 L1667.23 472.45 L1668.41 472.4 L1669.58 472.31 L1670.75 472.17 L1671.92 472 L1673.08 471.78 L1674.24 471.53 L1675.39 471.25 L1676.54 470.94 L1677.69 470.6 L1678.84 470.24 L1679.98 469.86 L1681.12 469.46 L1682.26 469.04 L1683.4 468.62 L1684.54 468.19 L1685.67 467.75 L1686.81 467.31 L1687.95 466.87 L1689.08 466.44 L1690.22 466.01 L1691.36 465.6 L1692.5 465.19 L1693.64 464.81 L1694.79 464.44 L1695.94 464.1 L1697.08 463.78 L1698.23 463.5 L1699.38 463.25 L1700.53 463.05 L1701.69 462.89 L1702.84 462.78 L1704 462.71 L1705.16 462.71 L1706.32 462.76 L1707.48 462.88 L1708.64 463.07 L1709.8 463.32 L1710.97 463.66 L1712.13 464.07 L1713.3 464.57 L1714.46 465.15 L1715.63 465.82 L1716.8 466.59"/>
</g>
<g fill="#fff" stroke="#000" stroke-width="2" stroke-linejoin="miter">
<polygon points="369.8,604.45 361.57,606.65 355.55,612.67 353.35,620.9 355.55,629.12 361.57,635.15 369.8,637.35 378.03,635.15 384.05,629.12 386.25,620.9 384.05,612.67 378.02,606.65"/>
<polygon points="522.7,621.95 514.48,624.15 508.45,630.17 506.25,638.4 508.45,646.62 514.48,652.65 522.7,654.85 530.93,652.65 536.95,646.62 539.15,638.4 536.95,630.17 530.93,624.15"/>
<polygon points="666.4,654.75 658.17,656.95 652.15,662.98 649.95,671.2 652.15,679.43 658.17,685.45 666.4,687.65 674.62,685.45 680.65,679.43 682.85,671.2 680.65,662.98 674.62,656.95"/>
<polygon points="784.5,684.25 776.27,686.45 770.25,692.48 768.05,700.7 770.25,708.93 776.27,714.95 784.5,717.15 792.73,714.95 798.75,708.93 800.95,700.7 798.75,692.48 792.73,686.45"/>
<polygon points="863.3,757.15 855.07,759.35 849.05,765.38 846.85,773.6 849.05,781.83 855.07,787.85 863.3,790.05 871.52,787.85 877.55,781.83 879.75,773.6 877.55,765.38 871.52,759.35"/>
<polygon points="928.3,841.85 920.07,844.05 914.05,850.07 911.85,858.3 914.05,866.52 920.07,872.55 928.3,874.75 936.52,872.55 942.55,866.52 944.75,858.3 942.55,850.07 936.52,844.05"/>
<polygon points="983.8,855.25 975.57,857.45 969.55,863.48 967.35,871.7 969.55,879.93 975.57,885.95 983.8,888.15 992.02,885.95 998.05,879.93 1000.25,871.7 998.05,863.48 992.02,857.45"/>
<polygon points="999.8,971.65 991.57,973.85 985.55,979.88 983.35,988.1 985.55,996.33 991.57,1002.35 999.8,1004.55 1008.02,1002.35 1014.05,996.33 1016.25,988.1 1014.05,979.88 1008.02,973.85"/>
<polygon points="1024.9,1015.05 1016.68,1017.25 1010.65,1023.27 1008.45,1031.5 1010.65,1039.72 1016.68,1045.75 1024.9,1047.95 1033.12,1045.75 1039.15,1039.72 1041.35,1031.5 1039.15,1023.27 1033.12,1017.25"/>
<polygon points="1033.3,893.25 1025.08,895.45 1019.05,901.48 1016.85,909.7 1019.05,917.93 1025.08,923.95 1033.3,926.15 1041.52,923.95 1047.55,917.93 1049.75,909.7 1047.55,901.48 1041.52,895.45"/>
<polygon points="1039.3,781.45 1031.08,783.65 1025.05,789.67 1022.85,797.9 1025.05,806.12 1031.08,812.15 1039.3,814.35 1047.52,812.15 1053.55,806.12 1055.75,797.9 1053.55,789.67 1047.52,783.65"/>
<polygon points="1045.05,653.75 1036.83,655.95 1030.8,661.98 1028.6,670.2 1030.8,678.43 1036.83,684.45 1045.05,686.65 1053.27,684.45 1059.3,678.43 1061.5,670.2 1059.3,661.98 1053.27,655.95"/>
<polygon points="1050.9,523.45 1042.68,525.65 1036.65,531.67 1034.45,539.9 1036.65,548.12 1042.68,554.15 1050.9,556.35 1059.12,554.15 1065.15,548.12 1067.35,539.9 1065.15,531.67 1059.12,525.65"/>
<polygon points="1056.7,403.75 1048.48,405.95 1042.45,411.97 1040.25,420.2 1042.45,428.43 1048.48,434.45 1056.7,436.65 1064.92,434.45 1070.95,428.43 1073.15,420.2 1070.95,411.97 1064.92,405.95"/>
<polygon points="1064,291.25 1055.78,293.45 1049.75,299.47 1047.55,307.7 1049.75,315.93 1055.78,321.95 1064,324.15 1072.22,321.95 1078.25,315.93 1080.45,307.7 1078.25,299.47 1072.22,293.45"/>
<polygon points="1084.6,226.55 1076.38,228.75 1070.35,234.78 1068.15,243 1070.35,251.22 1076.38,257.25 1084.6,259.45 1092.82,257.25 1098.85,251.22 1101.05,243 1098.85,234.78 1092.82,228.75"/>
<polygon points="1099.7,340.95 1091.48,343.15 1085.45,349.17 1083.25,357.4 1085.45,365.62 1091.48,371.65 1099.7,373.85 1107.92,371.65 1113.95,365.62 1116.15,357.4 1113.95,349.17 1107.92,343.15"/>
<polygon points="1134.5,399.85 1126.28,402.05 1120.25,408.07 1118.05,416.3 1120.25,424.53 1126.28,430.55 1134.5,432.75 1142.72,430.55 1148.75,424.53 1150.95,416.3 1148.75,408.07 1142.72,402.05"/>
<polygon points="1191.3,463.05 1183.08,465.25 1177.05,471.27 1174.85,479.5 1177.05,487.73 1183.08,493.75 1191.3,495.95 1199.52,493.75 1205.55,487.73 1207.75,479.5 1205.55,471.27 1199.52,465.25"/>
<polygon points="1281.3,452.65 1273.08,454.85 1267.05,460.88 1264.85,469.1 1267.05,477.33 1273.08,483.35 1281.3,485.55 1289.52,483.35 1295.55,477.33 1297.75,469.1 1295.55,460.88 1289.52,454.85"/>
<polygon points="1410.1,468.95 1401.88,471.15 1395.85,477.17 1393.65,485.4 1395.85,493.62 1401.88,499.65 1410.1,501.85 1418.32,499.65 1424.35,493.62 1426.55,485.4 1424.35,477.17 1418.32,471.15"/>
<polygon points="1557.1,444.15 1548.88,446.35 1542.85,452.38 1540.65,460.6 1542.85,468.83 1548.88,474.85 1557.1,477.05 1565.32,474.85 1571.35,468.83 1573.55,460.6 1571.35,452.38 1565.32,446.35"/>
<polygon points="1716.8,450.15 1708.58,452.35 1702.55,458.38 1700.35,466.6 1702.55,474.83 1708.58,480.85 1716.8,483.05 1725.02,480.85 1731.05,474.83 1733.25,466.6 1731.05,458.38 1725.02,452.35"/>
</g>
<g fill="none" stroke="#000" stroke-width="5.4">
<path d="M391.8 506.6 H1735" stroke-dasharray="5.4 8.26"/>
<path d="M1046.3 42.75 V1131.6" stroke-dasharray="5.4 8.26"/>
</g>
<g fill="none" stroke="#000">
<path stroke-width="5.4" stroke-linecap="square" d="M357.65 37.9 V1131.6 H1735 V37.9 M2032.3 37.9 V1131.6"/>
<path stroke-width="5.4" d="M357.65 37.9 h27.3 M1735 37.9 h-27.3 M2032.3 37.9 h-27.3 M357.65 194.14 h27.3 M1735 194.14 h-27.3 M2032.3 194.14 h-27.3 M357.65 350.39 h27.3 M1735 350.39 h-27.3 M2032.3 350.39 h-27.3 M357.65 506.63 h27.3 M1735 506.63 h-27.3 M2032.3 506.63 h-27.3 M357.65 662.87 h27.3 M1735 662.87 h-27.3 M2032.3 662.87 h-27.3 M357.65 819.11 h27.3 M1735 819.11 h-27.3 M2032.3 819.11 h-27.3 M357.65 975.36 h27.3 M1735 975.36 h-27.3 M2032.3 975.36 h-27.3 M2032.3 1131.6 h-27.3 M456.03 1131.6 v-27.3 M554.41 1131.6 v-27.3 M652.8 1131.6 v-27.3 M751.18 1131.6 v-27.3 M849.56 1131.6 v-27.3 M947.94 1131.6 v-27.3 M1046.32 1131.6 v-27.3 M1144.71 1131.6 v-27.3 M1243.09 1131.6 v-27.3 M1341.47 1131.6 v-27.3 M1439.85 1131.6 v-27.3 M1538.24 1131.6 v-27.3 M1636.62 1131.6 v-27.3"/>
<path stroke-width="1.9" d="M357.65 69.15 h16.5 M357.65 100.4 h16.5 M357.65 131.65 h16.5 M357.65 162.89 h16.5 M357.65 225.39 h16.5 M357.65 256.64 h16.5 M357.65 287.89 h16.5 M357.65 319.14 h16.5 M357.65 381.63 h16.5 M357.65 412.88 h16.5 M357.65 444.13 h16.5 M357.65 475.38 h16.5 M357.65 537.88 h16.5 M357.65 569.13 h16.5 M357.65 600.37 h16.5 M357.65 631.62 h16.5 M357.65 694.12 h16.5 M357.65 725.37 h16.5 M357.65 756.62 h16.5 M357.65 787.87 h16.5 M357.65 850.36 h16.5 M357.65 881.61 h16.5 M357.65 912.86 h16.5 M357.65 944.11 h16.5 M357.65 1006.61 h16.5 M357.65 1037.85 h16.5 M357.65 1069.1 h16.5 M357.65 1100.35 h16.5 M1735 76.96 h-16.5 M2032.3 76.96 h-16.5 M1735 116.02 h-16.5 M2032.3 116.02 h-16.5 M1735 155.08 h-16.5 M2032.3 155.08 h-16.5 M1735 233.2 h-16.5 M2032.3 233.2 h-16.5 M1735 272.26 h-16.5 M2032.3 272.26 h-16.5 M1735 311.32 h-16.5 M2032.3 311.32 h-16.5 M1735 389.45 h-16.5 M2032.3 389.45 h-16.5 M1735 428.51 h-16.5 M2032.3 428.51 h-16.5 M1735 467.57 h-16.5 M2032.3 467.57 h-16.5 M1735 545.69 h-16.5 M2032.3 545.69 h-16.5 M1735 584.75 h-16.5 M2032.3 584.75 h-16.5 M1735 623.81 h-16.5 M2032.3 623.81 h-16.5 M1735 701.93 h-16.5 M2032.3 701.93 h-16.5 M1735 740.99 h-16.5 M2032.3 740.99 h-16.5 M1735 780.05 h-16.5 M2032.3 780.05 h-16.5 M1735 858.17 h-16.5 M2032.3 858.17 h-16.5 M1735 897.24 h-16.5 M2032.3 897.24 h-16.5 M1735 936.3 h-16.5 M2032.3 936.3 h-16.5 M1735 1014.42 h-16.5 M2032.3 1014.42 h-16.5 M1735 1053.48 h-16.5 M2032.3 1053.48 h-16.5 M1735 1092.54 h-16.5 M2032.3 1092.54 h-16.5 M377.33 1131.6 v-16.5 M397 1131.6 v-16.5 M416.68 1131.6 v-16.5 M436.36 1131.6 v-16.5 M475.71 1131.6 v-16.5 M495.38 1131.6 v-16.5 M515.06 1131.6 v-16.5 M534.74 1131.6 v-16.5 M574.09 1131.6 v-16.5 M593.77 1131.6 v-16.5 M613.44 1131.6 v-16.5 M633.12 1131.6 v-16.5 M672.47 1131.6 v-16.5 M692.15 1131.6 v-16.5 M711.83 1131.6 v-16.5 M731.5 1131.6 v-16.5 M770.86 1131.6 v-16.5 M790.53 1131.6 v-16.5 M810.21 1131.6 v-16.5 M829.88 1131.6 v-16.5 M869.24 1131.6 v-16.5 M888.91 1131.6 v-16.5 M908.59 1131.6 v-16.5 M928.27 1131.6 v-16.5 M967.62 1131.6 v-16.5 M987.3 1131.6 v-16.5 M1006.97 1131.6 v-16.5 M1026.65 1131.6 v-16.5 M1066 1131.6 v-16.5 M1085.68 1131.6 v-16.5 M1105.35 1131.6 v-16.5 M1125.03 1131.6 v-16.5 M1164.38 1131.6 v-16.5 M1184.06 1131.6 v-16.5 M1203.74 1131.6 v-16.5 M1223.41 1131.6 v-16.5 M1262.77 1131.6 v-16.5 M1282.44 1131.6 v-16.5 M1302.12 1131.6 v-16.5 M1321.79 1131.6 v-16.5 M1361.15 1131.6 v-16.5 M1380.82 1131.6 v-16.5 M1400.5 1131.6 v-16.5 M1420.18 1131.6 v-16.5 M1459.53 1131.6 v-16.5 M1479.21 1131.6 v-16.5 M1498.88 1131.6 v-16.5 M1518.56 1131.6 v-16.5 M1557.91 1131.6 v-16.5 M1577.59 1131.6 v-16.5 M1597.26 1131.6 v-16.5 M1616.94 1131.6 v-16.5 M1656.29 1131.6 v-16.5 M1675.97 1131.6 v-16.5 M1695.65 1131.6 v-16.5 M1715.32 1131.6 v-16.5"/>
</g>
<g fill="none" stroke="#000" stroke-width="5.35">
<path d="M406.8 80.3 H705.7"/>
<path d="M406.8 179.7 H705.7" stroke-dasharray="27.3 27.2"/>
<path d="M406.8 279.5 H705.7"/>
</g>
<g fill="#fff" stroke="#000" stroke-width="2"><polygon points="556.4,263.05 548.17,265.25 542.15,271.27 539.95,279.5 542.15,287.73 548.17,293.75 556.4,295.95 564.62,293.75 570.65,287.73 572.85,279.5 570.65,271.27 564.62,265.25"/></g>
<text x="210.13" y="54.8" font-size="68" letter-spacing="-0.67">0.12</text>
<text x="210.13" y="213.4" font-size="68" letter-spacing="-0.67">0.08</text>
<text x="210.13" y="372" font-size="68" letter-spacing="-0.67">0.04</text>
<text x="293.47" y="530.6" font-size="68" letter-spacing="-0.67">0</text>
<text transform="translate(159.73 696.04) scale(1.26 1)" font-size="69.62">−</text><text x="210.13" y="689.2" font-size="68" letter-spacing="-0.67">0.04</text>
<text transform="translate(159.73 854.64) scale(1.26 1)" font-size="69.62">−</text><text x="210.13" y="847.8" font-size="68" letter-spacing="-0.67">0.08</text>
<text transform="translate(159.73 1013.24) scale(1.26 1)" font-size="69.62">−</text><text x="210.13" y="1006.4" font-size="68" letter-spacing="-0.67">0.12</text>
<text transform="translate(159.73 1171.84) scale(1.26 1)" font-size="69.62">−</text><text x="210.13" y="1165" font-size="68" letter-spacing="-0.67">0.16</text>
<text x="1765.2" y="59.2" font-size="68" letter-spacing="-0.67">6</text>
<text x="1765.2" y="215.5" font-size="68" letter-spacing="-0.67">4</text>
<text x="1765.2" y="371.8" font-size="68" letter-spacing="-0.67">2</text>
<text x="1765.2" y="528.1" font-size="68" letter-spacing="-0.67">0</text>
<text transform="translate(1766.67 691.24) scale(1.26 1)" font-size="69.62">−</text><text x="1817.07" y="684.4" font-size="68" letter-spacing="-0.67">2</text>
<text transform="translate(1766.67 847.54) scale(1.26 1)" font-size="69.62">−</text><text x="1817.07" y="840.7" font-size="68" letter-spacing="-0.67">4</text>
<text transform="translate(1766.67 1003.84) scale(1.26 1)" font-size="69.62">−</text><text x="1817.07" y="997" font-size="68" letter-spacing="-0.67">6</text>
<text transform="translate(1766.67 1160.14) scale(1.26 1)" font-size="69.62">−</text><text x="1817.07" y="1153.3" font-size="68" letter-spacing="-0.67">8</text>
<text x="2061.2" y="56" font-size="68" letter-spacing="-0.67">0.06</text>
<text x="2061.2" y="212.24" font-size="68" letter-spacing="-0.67">0.04</text>
<text x="2061.2" y="368.48" font-size="68" letter-spacing="-0.67">0.02</text>
<text x="2061.2" y="524.72" font-size="68" letter-spacing="-0.67">0</text>
<text transform="translate(2062.67 687.8) scale(1.26 1)" font-size="69.62">−</text><text x="2113.07" y="680.96" font-size="68" letter-spacing="-0.67">0.02</text>
<text transform="translate(2062.67 844.04) scale(1.26 1)" font-size="69.62">−</text><text x="2113.07" y="837.2" font-size="68" letter-spacing="-0.67">0.04</text>
<text transform="translate(2062.67 1000.28) scale(1.26 1)" font-size="69.62">−</text><text x="2113.07" y="993.44" font-size="68" letter-spacing="-0.67">0.06</text>
<text transform="translate(2062.67 1156.52) scale(1.26 1)" font-size="69.62">−</text><text x="2113.07" y="1149.68" font-size="68" letter-spacing="-0.67">0.08</text>
<text transform="translate(415.6 1211.44) scale(1.26 1)" font-size="69.62">−</text><text x="466" y="1204.6" font-size="68" letter-spacing="-0.67">6</text>
<text transform="translate(612.37 1211.44) scale(1.26 1)" font-size="69.62">−</text><text x="662.76" y="1204.6" font-size="68" letter-spacing="-0.67">4</text>
<text transform="translate(809.13 1211.44) scale(1.26 1)" font-size="69.62">−</text><text x="859.53" y="1204.6" font-size="68" letter-spacing="-0.67">2</text>
<text x="1030.36" y="1204.6" font-size="68" letter-spacing="-0.67">0</text>
<text x="1227.12" y="1204.6" font-size="68" letter-spacing="-0.67">2</text>
<text x="1423.88" y="1204.6" font-size="68" letter-spacing="-0.67">4</text>
<text x="1620.65" y="1204.6" font-size="68" letter-spacing="-0.67">6</text>
<g><text transform="translate(734.55 111.67) scale(1.09 1)" font-size="80.31" class="r">−</text><text transform="translate(782.31 104.17) scale(0.67 1)" font-size="67.54" class="m">⟨</text><text x="800.67" y="101.9" font-size="67.47" class="i">A</text><text transform="translate(840.46 122.61) scale(0.63 1)" font-size="91.74" class="m">′</text><text x="842.01" y="111.9" font-size="45.54" class="i">A</text><text transform="translate(871.82 104.17) scale(0.67 1)" font-size="67.54" class="m">⟩</text><text transform="translate(893 114.45) scale(0.7 1)" font-size="87" class="i">/</text><text x="917.38" y="101.9" font-size="67.47" class="i">H</text><text x="966.77" y="77" font-size="45.54" class="r">2</text></g>
<g><text transform="translate(734.55 209.27) scale(1.09 1)" font-size="80.31" class="r">−</text><text transform="translate(782.31 201.77) scale(0.67 1)" font-size="67.54" class="m">⟨</text><text x="802.25" y="199.5" font-size="67.47" class="i">a</text><text transform="translate(839.15 173.35) scale(1.01 1)" font-size="41.58" class="r">(</text><text x="853.06" y="174.6" font-size="45.03" class="r">1</text><text transform="translate(876.73 173.35) scale(1.02 1)" font-size="41.58" class="r">)</text><text transform="translate(894.22 201.77) scale(0.67 1)" font-size="67.54" class="m">⟩</text></g>
<g><text transform="translate(730.21 293.97) scale(0.67 1)" font-size="67.54" class="m">⟨</text><text x="750.32" y="291.7" font-size="67.47" class="i">u</text><text transform="translate(782.15 309.76) scale(0.59 1)" font-size="89.13" class="m">′</text><text transform="translate(799.32 293.97) scale(0.67 1)" font-size="67.54" class="m">⟩</text><text transform="translate(820.3 304.25) scale(0.7 1)" font-size="87" class="i">/</text><text x="845.26" y="291.7" font-size="67.47" class="i">U</text><text x="893.68" y="301" font-size="45.54" class="i">H</text></g>
<g transform="translate(94.9 729.6) rotate(-90)"><text transform="translate(-5.16 11.59) scale(1.09 1)" font-size="95.33" class="r">−</text><text transform="translate(51.52 2.7) scale(0.67 1)" font-size="80.16" class="m">⟨</text><text x="73.68" y="0" font-size="78.81" class="i">A</text><text transform="translate(120.55 24.59) scale(0.63 1)" font-size="108.89" class="m">′</text><text x="122.63" y="11.87" font-size="53.19" class="i">A</text><text transform="translate(157.78 2.7) scale(0.67 1)" font-size="80.16" class="m">⟩</text><text transform="translate(182.92 14.9) scale(0.7 1)" font-size="103.27" class="i">/</text><text x="212.35" y="0" font-size="78.81" class="i">H</text><text x="270.69" y="-29.56" font-size="53.19" class="r">2</text></g>
<g transform="translate(1931.9 681.2) rotate(-90)"><text transform="translate(-5.16 11.59) scale(1.09 1)" font-size="95.33" class="r">−</text><text transform="translate(51.52 2.7) scale(0.67 1)" font-size="80.16" class="m">⟨</text><text x="75.51" y="0" font-size="78.81" class="i">a</text><text transform="translate(119 -31.04) scale(1.01 1)" font-size="49.35" class="r">(</text><text x="135.74" y="-29.56" font-size="52.6" class="r">1</text><text transform="translate(163.61 -31.04) scale(1.02 1)" font-size="49.35" class="r">)</text><text transform="translate(184.36 2.7) scale(0.67 1)" font-size="80.16" class="m">⟩</text></g>
<g transform="translate(2316.7 695.2) rotate(-90)"><text transform="translate(-4.26 2.7) scale(0.67 1)" font-size="80.16" class="m">⟨</text><text x="19.94" y="0" font-size="78.81" class="i">u</text><text transform="translate(57.39 21.44) scale(0.59 1)" font-size="105.8" class="m">′</text><text transform="translate(77.77 2.7) scale(0.67 1)" font-size="80.16" class="m">⟩</text><text transform="translate(102.68 14.9) scale(0.7 1)" font-size="103.27" class="i">/</text><text x="132.86" y="0" font-size="78.81" class="i">U</text><text x="190.1" y="11.04" font-size="53.19" class="i">H</text></g>
<g><text transform="translate(908.99 1309.4) scale(1.16 1)" font-size="79.22" class="r">Δ</text><text x="969.73" y="1309.4" font-size="78.81" class="i">t</text><text x="992.14" y="1309.4" font-size="78.81" class="i">U</text><text x="1049.51" y="1320.9" font-size="51.8" class="i">H</text><text transform="translate(1093.76 1324.69) scale(0.71 1)" font-size="103.89" class="i">/</text><text x="1124.25" y="1309.4" font-size="78.81" class="i">H</text></g>
</svg>
</body>
</html>
